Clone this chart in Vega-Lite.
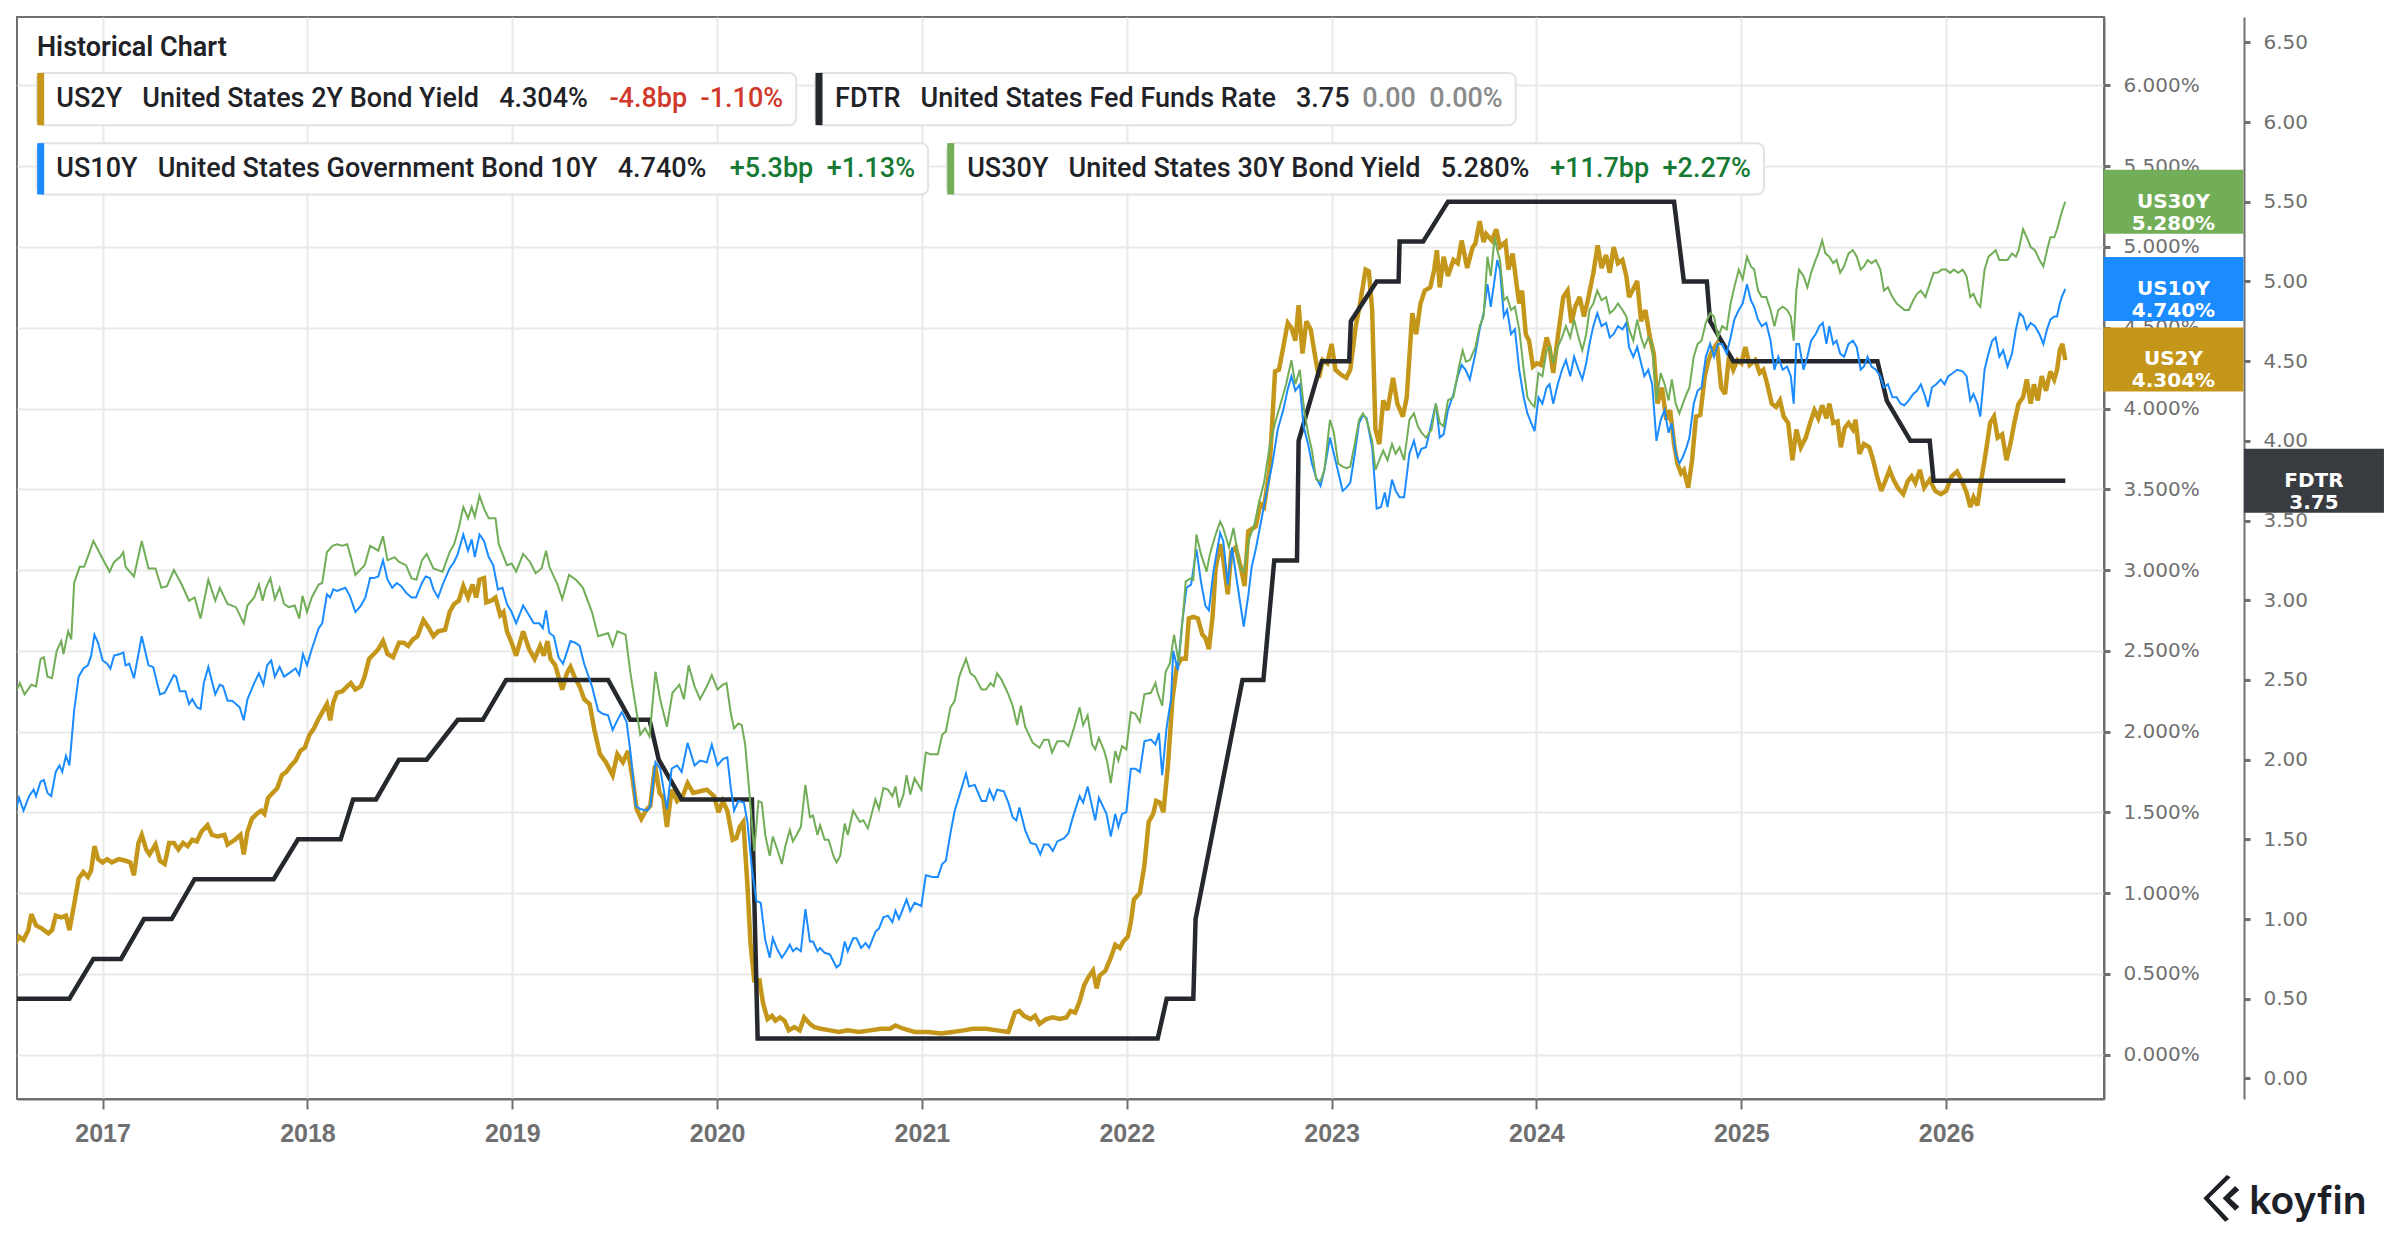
{
  "$schema": "https://vega.github.io/schema/vega-lite/v6.json",
  "width": 2087,
  "height": 1082,
  "padding": {"left": 17, "top": 17, "right": 0, "bottom": 0},
  "autosize": {"type": "pad"},
  "background": "white",
  "config": {
    "view": {"stroke": "#707070", "strokeWidth": 2},
    "axis": {
      "domainColor": "#707070", "domainWidth": 2,
      "tickColor": "#707070",
      "gridColor": "#e9e9e9", "gridWidth": 2,
      "labelColor": "#707070",
      "labelOverlap": false, "labelFlush": false
    }
  },
  "title": {
    "text": "Historical Chart", "anchor": "start", "frame": "group", "orient": "top",
    "offset": -66, "dx": 20, "baseline": "alphabetic",
    "font": "Roboto", "fontSize": 27, "fontWeight": 600, "color": "#1f2328"
  },
  "datasets": {
    "fdtr": [
      {"t":2016.582,"f":0.5},{"t":2016.838,"f":0.5},{"t":2016.955,"f":0.75},{"t":2017.090,"f":0.75},
      {"t":2017.202,"f":1.0},{"t":2017.337,"f":1.0},{"t":2017.449,"f":1.25},{"t":2017.835,"f":1.25},
      {"t":2017.954,"f":1.5},{"t":2018.162,"f":1.5},{"t":2018.223,"f":1.75},{"t":2018.335,"f":1.75},
      {"t":2018.447,"f":2.0},{"t":2018.582,"f":2.0},{"t":2018.734,"f":2.25},{"t":2018.856,"f":2.25},
      {"t":2018.970,"f":2.5},{"t":2019.468,"f":2.5},{"t":2019.576,"f":2.25},{"t":2019.670,"f":2.25},
      {"t":2019.715,"f":2.0},{"t":2019.827,"f":1.75},{"t":2020.170,"f":1.75},{"t":2020.198,"f":0.25},
      {"t":2022.151,"f":0.25},{"t":2022.195,"f":0.5},{"t":2022.325,"f":0.5},{"t":2022.336,"f":1.0},
      {"t":2022.565,"f":2.5},{"t":2022.667,"f":2.5},{"t":2022.720,"f":3.25},{"t":2022.831,"f":3.25},
      {"t":2022.839,"f":4.0},{"t":2022.952,"f":4.5},{"t":2023.086,"f":4.5},{"t":2023.094,"f":4.75},
      {"t":2023.220,"f":5.0},{"t":2023.327,"f":5.0},{"t":2023.332,"f":5.25},{"t":2023.447,"f":5.25},
      {"t":2023.568,"f":5.5},{"t":2024.672,"f":5.5},{"t":2024.720,"f":5.0},{"t":2024.832,"f":5.0},
      {"t":2024.848,"f":4.75},{"t":2024.961,"f":4.5},{"t":2025.665,"f":4.5},{"t":2025.711,"f":4.25},
      {"t":2025.826,"f":4.0},{"t":2025.920,"f":4.0},{"t":2025.939,"f":3.75},{"t":2026.582,"f":3.75}
    ],
    "ftag": [{"s":"FDTR","f":3.75,"lab":["FDTR","3.75"]}],
    "tags": [
      {"s":"US30Y","v":5.28,"lab":["US30Y","5.280%"]},
      {"s":"US10Y","v":4.74,"lab":["US10Y","4.740%"]},
      {"s":"US2Y","v":4.304,"lab":["US2Y","4.304%"]}
    ],
    "pills": [
      {"s":"US2Y","t0":2016.678,"t1":2020.386,"top":6.078,"bot":5.754,"mid":5.915,"tx":2016.774,"main":"US2Y\u00a0\u00a0\u00a0United States 2Y Bond Yield\u00a0\u00a0\u00a04.304%","chg":"-4.8bp\u00a0\u00a0-1.10%","dir":"down"},
      {"s":"FDTR","t0":2020.478,"t1":2023.899,"top":6.078,"bot":5.754,"mid":5.915,"tx":2020.576,"main":"FDTR\u00a0\u00a0\u00a0United States Fed Funds Rate\u00a0\u00a0\u00a03.75","chg":"0.00\u00a0\u00a00.00%","dir":"flat"},
      {"s":"US10Y","t0":2016.678,"t1":2021.030,"top":5.643,"bot":5.325,"mid":5.485,"tx":2016.774,"main":"US10Y\u00a0\u00a0\u00a0United States Government Bond 10Y\u00a0\u00a0\u00a04.740%","chg":"+5.3bp\u00a0\u00a0+1.13%","dir":"up"},
      {"s":"US30Y","t0":2021.121,"t1":2025.111,"top":5.643,"bot":5.325,"mid":5.485,"tx":2021.221,"main":"US30Y\u00a0\u00a0\u00a0United States 30Y Bond Yield\u00a0\u00a0\u00a05.280%","chg":"+11.7bp\u00a0\u00a0+2.27%","dir":"up"}
    ],
    "yields": [
      {"s":"US2Y","t":2016.574,"v":0.69},{"s":"US2Y","t":2016.592,"v":0.73},{"s":"US2Y","t":2016.614,"v":0.71},{"s":"US2Y","t":2016.637,"v":0.77},
      {"s":"US2Y","t":2016.652,"v":0.87},{"s":"US2Y","t":2016.675,"v":0.80},{"s":"US2Y","t":2016.704,"v":0.78},{"s":"US2Y","t":2016.735,"v":0.75},
      {"s":"US2Y","t":2016.753,"v":0.77},{"s":"US2Y","t":2016.771,"v":0.86},{"s":"US2Y","t":2016.798,"v":0.85},{"s":"US2Y","t":2016.821,"v":0.86},
      {"s":"US2Y","t":2016.838,"v":0.77},{"s":"US2Y","t":2016.861,"v":0.93},{"s":"US2Y","t":2016.883,"v":1.09},{"s":"US2Y","t":2016.906,"v":1.13},
      {"s":"US2Y","t":2016.928,"v":1.10},{"s":"US2Y","t":2016.944,"v":1.14},{"s":"US2Y","t":2016.960,"v":1.29},{"s":"US2Y","t":2016.978,"v":1.21},
      {"s":"US2Y","t":2017.000,"v":1.19},{"s":"US2Y","t":2017.022,"v":1.21},{"s":"US2Y","t":2017.045,"v":1.19},{"s":"US2Y","t":2017.079,"v":1.21},
      {"s":"US2Y","t":2017.112,"v":1.20},{"s":"US2Y","t":2017.135,"v":1.19},{"s":"US2Y","t":2017.153,"v":1.11},{"s":"US2Y","t":2017.175,"v":1.31},
      {"s":"US2Y","t":2017.191,"v":1.36},{"s":"US2Y","t":2017.213,"v":1.27},{"s":"US2Y","t":2017.229,"v":1.24},{"s":"US2Y","t":2017.258,"v":1.30},
      {"s":"US2Y","t":2017.280,"v":1.20},{"s":"US2Y","t":2017.303,"v":1.18},{"s":"US2Y","t":2017.325,"v":1.31},{"s":"US2Y","t":2017.348,"v":1.31},
      {"s":"US2Y","t":2017.370,"v":1.27},{"s":"US2Y","t":2017.393,"v":1.31},{"s":"US2Y","t":2017.415,"v":1.29},{"s":"US2Y","t":2017.438,"v":1.33},
      {"s":"US2Y","t":2017.460,"v":1.32},{"s":"US2Y","t":2017.482,"v":1.38},{"s":"US2Y","t":2017.512,"v":1.42},{"s":"US2Y","t":2017.534,"v":1.36},
      {"s":"US2Y","t":2017.561,"v":1.35},{"s":"US2Y","t":2017.595,"v":1.36},{"s":"US2Y","t":2017.610,"v":1.30},{"s":"US2Y","t":2017.646,"v":1.33},
      {"s":"US2Y","t":2017.673,"v":1.36},{"s":"US2Y","t":2017.689,"v":1.24},{"s":"US2Y","t":2017.707,"v":1.38},{"s":"US2Y","t":2017.729,"v":1.46},
      {"s":"US2Y","t":2017.752,"v":1.49},{"s":"US2Y","t":2017.774,"v":1.51},{"s":"US2Y","t":2017.790,"v":1.49},{"s":"US2Y","t":2017.808,"v":1.59},
      {"s":"US2Y","t":2017.830,"v":1.62},{"s":"US2Y","t":2017.853,"v":1.65},{"s":"US2Y","t":2017.875,"v":1.73},{"s":"US2Y","t":2017.897,"v":1.75},
      {"s":"US2Y","t":2017.920,"v":1.79},{"s":"US2Y","t":2017.942,"v":1.82},{"s":"US2Y","t":2017.965,"v":1.88},{"s":"US2Y","t":2017.987,"v":1.90},
      {"s":"US2Y","t":2018.010,"v":1.98},{"s":"US2Y","t":2018.032,"v":2.02},{"s":"US2Y","t":2018.055,"v":2.08},{"s":"US2Y","t":2018.077,"v":2.13},
      {"s":"US2Y","t":2018.095,"v":2.17},{"s":"US2Y","t":2018.111,"v":2.07},{"s":"US2Y","t":2018.126,"v":2.18},{"s":"US2Y","t":2018.144,"v":2.24},
      {"s":"US2Y","t":2018.171,"v":2.25},{"s":"US2Y","t":2018.194,"v":2.28},{"s":"US2Y","t":2018.212,"v":2.30},{"s":"US2Y","t":2018.234,"v":2.26},
      {"s":"US2Y","t":2018.261,"v":2.28},{"s":"US2Y","t":2018.279,"v":2.34},{"s":"US2Y","t":2018.301,"v":2.45},{"s":"US2Y","t":2018.324,"v":2.48},
      {"s":"US2Y","t":2018.346,"v":2.51},{"s":"US2Y","t":2018.369,"v":2.56},{"s":"US2Y","t":2018.391,"v":2.48},{"s":"US2Y","t":2018.418,"v":2.46},
      {"s":"US2Y","t":2018.447,"v":2.55},{"s":"US2Y","t":2018.470,"v":2.55},{"s":"US2Y","t":2018.492,"v":2.53},{"s":"US2Y","t":2018.515,"v":2.57},
      {"s":"US2Y","t":2018.537,"v":2.59},{"s":"US2Y","t":2018.566,"v":2.69},{"s":"US2Y","t":2018.593,"v":2.64},{"s":"US2Y","t":2018.615,"v":2.59},
      {"s":"US2Y","t":2018.638,"v":2.62},{"s":"US2Y","t":2018.672,"v":2.63},{"s":"US2Y","t":2018.694,"v":2.74},{"s":"US2Y","t":2018.716,"v":2.79},
      {"s":"US2Y","t":2018.739,"v":2.81},{"s":"US2Y","t":2018.761,"v":2.90},{"s":"US2Y","t":2018.784,"v":2.83},{"s":"US2Y","t":2018.806,"v":2.91},
      {"s":"US2Y","t":2018.824,"v":2.83},{"s":"US2Y","t":2018.840,"v":2.94},{"s":"US2Y","t":2018.862,"v":2.95},{"s":"US2Y","t":2018.873,"v":2.80},
      {"s":"US2Y","t":2018.896,"v":2.81},{"s":"US2Y","t":2018.918,"v":2.83},{"s":"US2Y","t":2018.941,"v":2.72},{"s":"US2Y","t":2018.957,"v":2.74},
      {"s":"US2Y","t":2018.974,"v":2.62},{"s":"US2Y","t":2018.997,"v":2.55},{"s":"US2Y","t":2019.019,"v":2.47},{"s":"US2Y","t":2019.053,"v":2.62},
      {"s":"US2Y","t":2019.082,"v":2.51},{"s":"US2Y","t":2019.109,"v":2.45},{"s":"US2Y","t":2019.136,"v":2.53},{"s":"US2Y","t":2019.154,"v":2.47},
      {"s":"US2Y","t":2019.172,"v":2.56},{"s":"US2Y","t":2019.187,"v":2.45},{"s":"US2Y","t":2019.210,"v":2.41},{"s":"US2Y","t":2019.244,"v":2.26},
      {"s":"US2Y","t":2019.266,"v":2.36},{"s":"US2Y","t":2019.284,"v":2.40},{"s":"US2Y","t":2019.307,"v":2.33},{"s":"US2Y","t":2019.329,"v":2.28},
      {"s":"US2Y","t":2019.351,"v":2.20},{"s":"US2Y","t":2019.378,"v":2.17},{"s":"US2Y","t":2019.401,"v":2.01},{"s":"US2Y","t":2019.428,"v":1.86},
      {"s":"US2Y","t":2019.457,"v":1.81},{"s":"US2Y","t":2019.490,"v":1.73},{"s":"US2Y","t":2019.513,"v":1.86},{"s":"US2Y","t":2019.540,"v":1.81},
      {"s":"US2Y","t":2019.565,"v":1.88},{"s":"US2Y","t":2019.587,"v":1.71},{"s":"US2Y","t":2019.607,"v":1.52},{"s":"US2Y","t":2019.630,"v":1.46},
      {"s":"US2Y","t":2019.652,"v":1.51},{"s":"US2Y","t":2019.674,"v":1.54},{"s":"US2Y","t":2019.697,"v":1.79},{"s":"US2Y","t":2019.719,"v":1.62},
      {"s":"US2Y","t":2019.737,"v":1.59},{"s":"US2Y","t":2019.755,"v":1.41},{"s":"US2Y","t":2019.778,"v":1.64},{"s":"US2Y","t":2019.805,"v":1.57},
      {"s":"US2Y","t":2019.832,"v":1.60},{"s":"US2Y","t":2019.856,"v":1.68},{"s":"US2Y","t":2019.883,"v":1.62},{"s":"US2Y","t":2019.917,"v":1.63},
      {"s":"US2Y","t":2019.950,"v":1.64},{"s":"US2Y","t":2019.985,"v":1.60},{"s":"US2Y","t":2020.007,"v":1.50},{"s":"US2Y","t":2020.028,"v":1.57},
      {"s":"US2Y","t":2020.050,"v":1.51},{"s":"US2Y","t":2020.076,"v":1.33},{"s":"US2Y","t":2020.094,"v":1.34},{"s":"US2Y","t":2020.111,"v":1.41},
      {"s":"US2Y","t":2020.128,"v":1.44},{"s":"US2Y","t":2020.148,"v":1.05},{"s":"US2Y","t":2020.163,"v":0.69},{"s":"US2Y","t":2020.181,"v":0.46},
      {"s":"US2Y","t":2020.207,"v":0.46},{"s":"US2Y","t":2020.224,"v":0.32},{"s":"US2Y","t":2020.246,"v":0.22},{"s":"US2Y","t":2020.268,"v":0.24},
      {"s":"US2Y","t":2020.285,"v":0.21},{"s":"US2Y","t":2020.307,"v":0.23},{"s":"US2Y","t":2020.329,"v":0.21},{"s":"US2Y","t":2020.350,"v":0.15},
      {"s":"US2Y","t":2020.377,"v":0.17},{"s":"US2Y","t":2020.403,"v":0.15},{"s":"US2Y","t":2020.425,"v":0.23},{"s":"US2Y","t":2020.453,"v":0.19},
      {"s":"US2Y","t":2020.475,"v":0.17},{"s":"US2Y","t":2020.507,"v":0.16},{"s":"US2Y","t":2020.551,"v":0.15},{"s":"US2Y","t":2020.594,"v":0.14},
      {"s":"US2Y","t":2020.638,"v":0.15},{"s":"US2Y","t":2020.692,"v":0.14},{"s":"US2Y","t":2020.747,"v":0.15},{"s":"US2Y","t":2020.801,"v":0.16},
      {"s":"US2Y","t":2020.845,"v":0.16},{"s":"US2Y","t":2020.871,"v":0.18},{"s":"US2Y","t":2020.910,"v":0.16},{"s":"US2Y","t":2020.964,"v":0.14},
      {"s":"US2Y","t":2021.030,"v":0.14},{"s":"US2Y","t":2021.095,"v":0.13},{"s":"US2Y","t":2021.149,"v":0.14},{"s":"US2Y","t":2021.204,"v":0.15},
      {"s":"US2Y","t":2021.247,"v":0.16},{"s":"US2Y","t":2021.313,"v":0.16},{"s":"US2Y","t":2021.367,"v":0.15},{"s":"US2Y","t":2021.422,"v":0.14},
      {"s":"US2Y","t":2021.454,"v":0.26},{"s":"US2Y","t":2021.476,"v":0.27},{"s":"US2Y","t":2021.498,"v":0.24},{"s":"US2Y","t":2021.530,"v":0.22},
      {"s":"US2Y","t":2021.552,"v":0.24},{"s":"US2Y","t":2021.574,"v":0.19},{"s":"US2Y","t":2021.607,"v":0.22},{"s":"US2Y","t":2021.639,"v":0.23},
      {"s":"US2Y","t":2021.672,"v":0.22},{"s":"US2Y","t":2021.705,"v":0.23},{"s":"US2Y","t":2021.726,"v":0.27},{"s":"US2Y","t":2021.748,"v":0.26},
      {"s":"US2Y","t":2021.770,"v":0.33},{"s":"US2Y","t":2021.792,"v":0.43},{"s":"US2Y","t":2021.813,"v":0.48},{"s":"US2Y","t":2021.835,"v":0.52},
      {"s":"US2Y","t":2021.853,"v":0.41},{"s":"US2Y","t":2021.868,"v":0.49},{"s":"US2Y","t":2021.896,"v":0.52},{"s":"US2Y","t":2021.922,"v":0.60},
      {"s":"US2Y","t":2021.944,"v":0.68},{"s":"US2Y","t":2021.966,"v":0.66},{"s":"US2Y","t":2021.983,"v":0.70},{"s":"US2Y","t":2022.005,"v":0.73},
      {"s":"US2Y","t":2022.020,"v":0.82},{"s":"US2Y","t":2022.035,"v":0.96},{"s":"US2Y","t":2022.064,"v":1.00},{"s":"US2Y","t":2022.086,"v":1.17},
      {"s":"US2Y","t":2022.107,"v":1.44},{"s":"US2Y","t":2022.129,"v":1.49},{"s":"US2Y","t":2022.144,"v":1.57},{"s":"US2Y","t":2022.162,"v":1.56},
      {"s":"US2Y","t":2022.179,"v":1.50},{"s":"US2Y","t":2022.201,"v":1.79},{"s":"US2Y","t":2022.223,"v":2.20},{"s":"US2Y","t":2022.244,"v":2.40},
      {"s":"US2Y","t":2022.266,"v":2.45},{"s":"US2Y","t":2022.288,"v":2.45},{"s":"US2Y","t":2022.303,"v":2.70},{"s":"US2Y","t":2022.325,"v":2.71},
      {"s":"US2Y","t":2022.347,"v":2.70},{"s":"US2Y","t":2022.369,"v":2.60},{"s":"US2Y","t":2022.384,"v":2.58},{"s":"US2Y","t":2022.401,"v":2.51},
      {"s":"US2Y","t":2022.419,"v":2.71},{"s":"US2Y","t":2022.434,"v":3.01},{"s":"US2Y","t":2022.456,"v":3.16},{"s":"US2Y","t":2022.471,"v":3.07},
      {"s":"US2Y","t":2022.493,"v":2.85},{"s":"US2Y","t":2022.510,"v":3.11},{"s":"US2Y","t":2022.532,"v":3.14},{"s":"US2Y","t":2022.558,"v":3.01},
      {"s":"US2Y","t":2022.575,"v":2.90},{"s":"US2Y","t":2022.593,"v":3.24},{"s":"US2Y","t":2022.630,"v":3.27},{"s":"US2Y","t":2022.652,"v":3.41},
      {"s":"US2Y","t":2022.670,"v":3.39},{"s":"US2Y","t":2022.697,"v":3.62},{"s":"US2Y","t":2022.724,"v":4.23},{"s":"US2Y","t":2022.743,"v":4.24},
      {"s":"US2Y","t":2022.764,"v":4.38},{"s":"US2Y","t":2022.786,"v":4.53},{"s":"US2Y","t":2022.804,"v":4.50},{"s":"US2Y","t":2022.823,"v":4.42},
      {"s":"US2Y","t":2022.839,"v":4.64},{"s":"US2Y","t":2022.858,"v":4.34},{"s":"US2Y","t":2022.877,"v":4.54},{"s":"US2Y","t":2022.898,"v":4.49},
      {"s":"US2Y","t":2022.920,"v":4.32},{"s":"US2Y","t":2022.938,"v":4.19},{"s":"US2Y","t":2022.957,"v":4.30},{"s":"US2Y","t":2022.979,"v":4.28},
      {"s":"US2Y","t":2023.000,"v":4.40},{"s":"US2Y","t":2023.019,"v":4.24},{"s":"US2Y","t":2023.046,"v":4.21},{"s":"US2Y","t":2023.072,"v":4.19},
      {"s":"US2Y","t":2023.091,"v":4.24},{"s":"US2Y","t":2023.118,"v":4.51},{"s":"US2Y","t":2023.139,"v":4.65},{"s":"US2Y","t":2023.166,"v":4.86},
      {"s":"US2Y","t":2023.182,"v":4.85},{"s":"US2Y","t":2023.198,"v":4.61},{"s":"US2Y","t":2023.214,"v":3.87},{"s":"US2Y","t":2023.233,"v":3.78},
      {"s":"US2Y","t":2023.252,"v":4.05},{"s":"US2Y","t":2023.273,"v":3.99},{"s":"US2Y","t":2023.300,"v":4.19},{"s":"US2Y","t":2023.321,"v":4.03},
      {"s":"US2Y","t":2023.348,"v":3.95},{"s":"US2Y","t":2023.367,"v":4.07},{"s":"US2Y","t":2023.394,"v":4.59},{"s":"US2Y","t":2023.413,"v":4.46},
      {"s":"US2Y","t":2023.434,"v":4.65},{"s":"US2Y","t":2023.455,"v":4.73},{"s":"US2Y","t":2023.482,"v":4.75},{"s":"US2Y","t":2023.501,"v":4.86},
      {"s":"US2Y","t":2023.514,"v":4.98},{"s":"US2Y","t":2023.528,"v":4.75},{"s":"US2Y","t":2023.547,"v":4.94},{"s":"US2Y","t":2023.568,"v":4.82},
      {"s":"US2Y","t":2023.595,"v":4.92},{"s":"US2Y","t":2023.616,"v":4.90},{"s":"US2Y","t":2023.635,"v":5.04},{"s":"US2Y","t":2023.662,"v":4.87},
      {"s":"US2Y","t":2023.689,"v":5.00},{"s":"US2Y","t":2023.702,"v":5.02},{"s":"US2Y","t":2023.723,"v":5.16},{"s":"US2Y","t":2023.742,"v":5.03},
      {"s":"US2Y","t":2023.755,"v":5.08},{"s":"US2Y","t":2023.782,"v":5.04},{"s":"US2Y","t":2023.804,"v":5.11},{"s":"US2Y","t":2023.822,"v":5.00},
      {"s":"US2Y","t":2023.849,"v":5.03},{"s":"US2Y","t":2023.863,"v":4.86},{"s":"US2Y","t":2023.884,"v":4.96},{"s":"US2Y","t":2023.903,"v":4.77},
      {"s":"US2Y","t":2023.916,"v":4.65},{"s":"US2Y","t":2023.930,"v":4.73},{"s":"US2Y","t":2023.948,"v":4.46},{"s":"US2Y","t":2023.964,"v":4.42},
      {"s":"US2Y","t":2023.983,"v":4.26},{"s":"US2Y","t":2024.002,"v":4.28},{"s":"US2Y","t":2024.023,"v":4.27},{"s":"US2Y","t":2024.050,"v":4.44},
      {"s":"US2Y","t":2024.064,"v":4.38},{"s":"US2Y","t":2024.082,"v":4.22},{"s":"US2Y","t":2024.104,"v":4.44},{"s":"US2Y","t":2024.131,"v":4.69},
      {"s":"US2Y","t":2024.152,"v":4.73},{"s":"US2Y","t":2024.171,"v":4.53},{"s":"US2Y","t":2024.189,"v":4.63},{"s":"US2Y","t":2024.211,"v":4.69},
      {"s":"US2Y","t":2024.232,"v":4.57},{"s":"US2Y","t":2024.251,"v":4.67},{"s":"US2Y","t":2024.278,"v":4.84},{"s":"US2Y","t":2024.299,"v":5.01},
      {"s":"US2Y","t":2024.318,"v":4.87},{"s":"US2Y","t":2024.340,"v":4.95},{"s":"US2Y","t":2024.358,"v":4.84},{"s":"US2Y","t":2024.377,"v":5.00},
      {"s":"US2Y","t":2024.398,"v":4.90},{"s":"US2Y","t":2024.420,"v":4.92},{"s":"US2Y","t":2024.439,"v":4.82},{"s":"US2Y","t":2024.452,"v":4.69},
      {"s":"US2Y","t":2024.473,"v":4.74},{"s":"US2Y","t":2024.492,"v":4.79},{"s":"US2Y","t":2024.511,"v":4.54},{"s":"US2Y","t":2024.532,"v":4.61},
      {"s":"US2Y","t":2024.554,"v":4.44},{"s":"US2Y","t":2024.573,"v":4.34},{"s":"US2Y","t":2024.591,"v":4.03},{"s":"US2Y","t":2024.613,"v":4.13},
      {"s":"US2Y","t":2024.634,"v":3.93},{"s":"US2Y","t":2024.653,"v":3.99},{"s":"US2Y","t":2024.672,"v":3.78},{"s":"US2Y","t":2024.688,"v":3.66},
      {"s":"US2Y","t":2024.706,"v":3.60},{"s":"US2Y","t":2024.720,"v":3.62},{"s":"US2Y","t":2024.741,"v":3.51},{"s":"US2Y","t":2024.760,"v":3.68},
      {"s":"US2Y","t":2024.779,"v":3.95},{"s":"US2Y","t":2024.800,"v":3.96},{"s":"US2Y","t":2024.822,"v":4.20},{"s":"US2Y","t":2024.840,"v":4.30},
      {"s":"US2Y","t":2024.859,"v":4.36},{"s":"US2Y","t":2024.881,"v":4.40},{"s":"US2Y","t":2024.902,"v":4.13},{"s":"US2Y","t":2024.921,"v":4.09},
      {"s":"US2Y","t":2024.940,"v":4.32},{"s":"US2Y","t":2024.961,"v":4.24},{"s":"US2Y","t":2024.982,"v":4.30},{"s":"US2Y","t":2025.001,"v":4.28},
      {"s":"US2Y","t":2025.020,"v":4.38},{"s":"US2Y","t":2025.041,"v":4.27},{"s":"US2Y","t":2025.068,"v":4.30},{"s":"US2Y","t":2025.090,"v":4.22},
      {"s":"US2Y","t":2025.108,"v":4.24},{"s":"US2Y","t":2025.127,"v":4.15},{"s":"US2Y","t":2025.149,"v":4.03},{"s":"US2Y","t":2025.170,"v":4.01},
      {"s":"US2Y","t":2025.189,"v":4.05},{"s":"US2Y","t":2025.207,"v":3.95},{"s":"US2Y","t":2025.229,"v":3.91},{"s":"US2Y","t":2025.250,"v":3.68},
      {"s":"US2Y","t":2025.269,"v":3.87},{"s":"US2Y","t":2025.291,"v":3.76},{"s":"US2Y","t":2025.315,"v":3.82},{"s":"US2Y","t":2025.336,"v":3.91},
      {"s":"US2Y","t":2025.357,"v":3.99},{"s":"US2Y","t":2025.376,"v":3.94},{"s":"US2Y","t":2025.395,"v":4.02},{"s":"US2Y","t":2025.416,"v":3.94},
      {"s":"US2Y","t":2025.430,"v":4.03},{"s":"US2Y","t":2025.449,"v":3.91},{"s":"US2Y","t":2025.470,"v":3.92},{"s":"US2Y","t":2025.486,"v":3.76},
      {"s":"US2Y","t":2025.505,"v":3.88},{"s":"US2Y","t":2025.524,"v":3.91},{"s":"US2Y","t":2025.545,"v":3.87},{"s":"US2Y","t":2025.558,"v":3.93},
      {"s":"US2Y","t":2025.577,"v":3.72},{"s":"US2Y","t":2025.599,"v":3.78},{"s":"US2Y","t":2025.625,"v":3.76},{"s":"US2Y","t":2025.644,"v":3.68},
      {"s":"US2Y","t":2025.663,"v":3.58},{"s":"US2Y","t":2025.684,"v":3.49},{"s":"US2Y","t":2025.706,"v":3.56},{"s":"US2Y","t":2025.724,"v":3.62},
      {"s":"US2Y","t":2025.743,"v":3.56},{"s":"US2Y","t":2025.764,"v":3.51},{"s":"US2Y","t":2025.791,"v":3.47},{"s":"US2Y","t":2025.813,"v":3.55},
      {"s":"US2Y","t":2025.832,"v":3.58},{"s":"US2Y","t":2025.850,"v":3.54},{"s":"US2Y","t":2025.872,"v":3.62},{"s":"US2Y","t":2025.893,"v":3.51},
      {"s":"US2Y","t":2025.920,"v":3.56},{"s":"US2Y","t":2025.947,"v":3.49},{"s":"US2Y","t":2025.974,"v":3.47},{"s":"US2Y","t":2026.000,"v":3.49},
      {"s":"US2Y","t":2026.027,"v":3.58},{"s":"US2Y","t":2026.054,"v":3.61},{"s":"US2Y","t":2026.081,"v":3.54},{"s":"US2Y","t":2026.100,"v":3.48},
      {"s":"US2Y","t":2026.118,"v":3.39},{"s":"US2Y","t":2026.134,"v":3.45},{"s":"US2Y","t":2026.153,"v":3.40},{"s":"US2Y","t":2026.172,"v":3.56},
      {"s":"US2Y","t":2026.193,"v":3.72},{"s":"US2Y","t":2026.215,"v":3.91},{"s":"US2Y","t":2026.234,"v":3.95},{"s":"US2Y","t":2026.252,"v":3.82},
      {"s":"US2Y","t":2026.274,"v":3.84},{"s":"US2Y","t":2026.295,"v":3.68},{"s":"US2Y","t":2026.314,"v":3.78},{"s":"US2Y","t":2026.333,"v":3.91},
      {"s":"US2Y","t":2026.354,"v":4.03},{"s":"US2Y","t":2026.376,"v":4.07},{"s":"US2Y","t":2026.394,"v":4.18},{"s":"US2Y","t":2026.413,"v":4.03},
      {"s":"US2Y","t":2026.429,"v":4.15},{"s":"US2Y","t":2026.448,"v":4.05},{"s":"US2Y","t":2026.467,"v":4.20},{"s":"US2Y","t":2026.488,"v":4.11},
      {"s":"US2Y","t":2026.509,"v":4.23},{"s":"US2Y","t":2026.528,"v":4.18},{"s":"US2Y","t":2026.542,"v":4.24},{"s":"US2Y","t":2026.555,"v":4.36},
      {"s":"US2Y","t":2026.568,"v":4.40},{"s":"US2Y","t":2026.582,"v":4.30},

      {"s":"US10Y","t":2016.574,"v":1.50},{"s":"US10Y","t":2016.592,"v":1.59},{"s":"US10Y","t":2016.614,"v":1.51},{"s":"US10Y","t":2016.641,"v":1.60},
      {"s":"US10Y","t":2016.663,"v":1.64},{"s":"US10Y","t":2016.675,"v":1.60},{"s":"US10Y","t":2016.697,"v":1.69},{"s":"US10Y","t":2016.713,"v":1.70},
      {"s":"US10Y","t":2016.731,"v":1.62},{"s":"US10Y","t":2016.749,"v":1.60},{"s":"US10Y","t":2016.771,"v":1.75},{"s":"US10Y","t":2016.789,"v":1.79},
      {"s":"US10Y","t":2016.803,"v":1.75},{"s":"US10Y","t":2016.821,"v":1.85},{"s":"US10Y","t":2016.838,"v":1.79},{"s":"US10Y","t":2016.861,"v":2.13},
      {"s":"US10Y","t":2016.883,"v":2.34},{"s":"US10Y","t":2016.906,"v":2.39},{"s":"US10Y","t":2016.928,"v":2.41},{"s":"US10Y","t":2016.944,"v":2.47},
      {"s":"US10Y","t":2016.960,"v":2.60},{"s":"US10Y","t":2016.978,"v":2.55},{"s":"US10Y","t":2017.000,"v":2.44},{"s":"US10Y","t":2017.022,"v":2.42},
      {"s":"US10Y","t":2017.038,"v":2.39},{"s":"US10Y","t":2017.056,"v":2.47},{"s":"US10Y","t":2017.085,"v":2.48},{"s":"US10Y","t":2017.101,"v":2.49},
      {"s":"US10Y","t":2017.112,"v":2.41},{"s":"US10Y","t":2017.130,"v":2.42},{"s":"US10Y","t":2017.153,"v":2.33},{"s":"US10Y","t":2017.191,"v":2.59},
      {"s":"US10Y","t":2017.224,"v":2.41},{"s":"US10Y","t":2017.247,"v":2.40},{"s":"US10Y","t":2017.280,"v":2.23},{"s":"US10Y","t":2017.303,"v":2.24},
      {"s":"US10Y","t":2017.348,"v":2.35},{"s":"US10Y","t":2017.359,"v":2.34},{"s":"US10Y","t":2017.377,"v":2.25},{"s":"US10Y","t":2017.404,"v":2.25},
      {"s":"US10Y","t":2017.422,"v":2.17},{"s":"US10Y","t":2017.438,"v":2.20},{"s":"US10Y","t":2017.460,"v":2.15},{"s":"US10Y","t":2017.478,"v":2.14},
      {"s":"US10Y","t":2017.494,"v":2.30},{"s":"US10Y","t":2017.516,"v":2.40},{"s":"US10Y","t":2017.550,"v":2.23},{"s":"US10Y","t":2017.572,"v":2.29},
      {"s":"US10Y","t":2017.588,"v":2.28},{"s":"US10Y","t":2017.610,"v":2.19},{"s":"US10Y","t":2017.633,"v":2.19},{"s":"US10Y","t":2017.669,"v":2.15},
      {"s":"US10Y","t":2017.689,"v":2.07},{"s":"US10Y","t":2017.707,"v":2.20},{"s":"US10Y","t":2017.740,"v":2.30},{"s":"US10Y","t":2017.763,"v":2.36},
      {"s":"US10Y","t":2017.785,"v":2.29},{"s":"US10Y","t":2017.803,"v":2.41},{"s":"US10Y","t":2017.823,"v":2.44},{"s":"US10Y","t":2017.841,"v":2.34},
      {"s":"US10Y","t":2017.864,"v":2.40},{"s":"US10Y","t":2017.886,"v":2.34},{"s":"US10Y","t":2017.909,"v":2.36},{"s":"US10Y","t":2017.942,"v":2.39},
      {"s":"US10Y","t":2017.960,"v":2.35},{"s":"US10Y","t":2017.978,"v":2.48},{"s":"US10Y","t":2017.998,"v":2.41},{"s":"US10Y","t":2018.021,"v":2.51},
      {"s":"US10Y","t":2018.055,"v":2.64},{"s":"US10Y","t":2018.072,"v":2.67},{"s":"US10Y","t":2018.095,"v":2.85},{"s":"US10Y","t":2018.111,"v":2.83},
      {"s":"US10Y","t":2018.126,"v":2.88},{"s":"US10Y","t":2018.144,"v":2.87},{"s":"US10Y","t":2018.185,"v":2.89},{"s":"US10Y","t":2018.207,"v":2.84},
      {"s":"US10Y","t":2018.234,"v":2.74},{"s":"US10Y","t":2018.261,"v":2.78},{"s":"US10Y","t":2018.283,"v":2.83},{"s":"US10Y","t":2018.306,"v":2.95},
      {"s":"US10Y","t":2018.324,"v":2.95},{"s":"US10Y","t":2018.346,"v":2.96},{"s":"US10Y","t":2018.369,"v":3.06},{"s":"US10Y","t":2018.391,"v":2.94},
      {"s":"US10Y","t":2018.414,"v":2.89},{"s":"US10Y","t":2018.436,"v":2.92},{"s":"US10Y","t":2018.458,"v":2.90},{"s":"US10Y","t":2018.481,"v":2.86},
      {"s":"US10Y","t":2018.508,"v":2.83},{"s":"US10Y","t":2018.530,"v":2.83},{"s":"US10Y","t":2018.559,"v":2.92},{"s":"US10Y","t":2018.577,"v":2.96},
      {"s":"US10Y","t":2018.598,"v":2.95},{"s":"US10Y","t":2018.615,"v":2.88},{"s":"US10Y","t":2018.638,"v":2.83},{"s":"US10Y","t":2018.660,"v":2.91},
      {"s":"US10Y","t":2018.694,"v":3.01},{"s":"US10Y","t":2018.716,"v":3.05},{"s":"US10Y","t":2018.734,"v":3.10},{"s":"US10Y","t":2018.761,"v":3.22},
      {"s":"US10Y","t":2018.784,"v":3.12},{"s":"US10Y","t":2018.802,"v":3.19},{"s":"US10Y","t":2018.817,"v":3.08},{"s":"US10Y","t":2018.840,"v":3.22},
      {"s":"US10Y","t":2018.862,"v":3.18},{"s":"US10Y","t":2018.885,"v":3.08},{"s":"US10Y","t":2018.907,"v":3.03},{"s":"US10Y","t":2018.930,"v":2.88},
      {"s":"US10Y","t":2018.952,"v":2.89},{"s":"US10Y","t":2018.974,"v":2.79},{"s":"US10Y","t":2018.997,"v":2.74},{"s":"US10Y","t":2019.019,"v":2.67},
      {"s":"US10Y","t":2019.053,"v":2.78},{"s":"US10Y","t":2019.082,"v":2.72},{"s":"US10Y","t":2019.105,"v":2.67},{"s":"US10Y","t":2019.132,"v":2.67},
      {"s":"US10Y","t":2019.149,"v":2.64},{"s":"US10Y","t":2019.165,"v":2.75},{"s":"US10Y","t":2019.181,"v":2.61},{"s":"US10Y","t":2019.203,"v":2.59},
      {"s":"US10Y","t":2019.226,"v":2.46},{"s":"US10Y","t":2019.248,"v":2.42},{"s":"US10Y","t":2019.284,"v":2.56},{"s":"US10Y","t":2019.307,"v":2.55},
      {"s":"US10Y","t":2019.329,"v":2.53},{"s":"US10Y","t":2019.351,"v":2.42},{"s":"US10Y","t":2019.389,"v":2.28},{"s":"US10Y","t":2019.419,"v":2.13},
      {"s":"US10Y","t":2019.441,"v":2.11},{"s":"US10Y","t":2019.468,"v":2.10},{"s":"US10Y","t":2019.490,"v":2.01},{"s":"US10Y","t":2019.517,"v":2.08},
      {"s":"US10Y","t":2019.535,"v":2.12},{"s":"US10Y","t":2019.558,"v":2.06},{"s":"US10Y","t":2019.580,"v":1.84},{"s":"US10Y","t":2019.603,"v":1.54},
      {"s":"US10Y","t":2019.625,"v":1.52},{"s":"US10Y","t":2019.659,"v":1.51},{"s":"US10Y","t":2019.674,"v":1.54},{"s":"US10Y","t":2019.699,"v":1.81},
      {"s":"US10Y","t":2019.722,"v":1.77},{"s":"US10Y","t":2019.755,"v":1.52},{"s":"US10Y","t":2019.778,"v":1.77},{"s":"US10Y","t":2019.805,"v":1.79},
      {"s":"US10Y","t":2019.827,"v":1.75},{"s":"US10Y","t":2019.856,"v":1.93},{"s":"US10Y","t":2019.890,"v":1.79},{"s":"US10Y","t":2019.917,"v":1.82},
      {"s":"US10Y","t":2019.950,"v":1.81},{"s":"US10Y","t":2019.974,"v":1.92},{"s":"US10Y","t":2020.002,"v":1.79},{"s":"US10Y","t":2020.028,"v":1.83},
      {"s":"US10Y","t":2020.050,"v":1.84},{"s":"US10Y","t":2020.067,"v":1.65},{"s":"US10Y","t":2020.083,"v":1.51},{"s":"US10Y","t":2020.104,"v":1.57},
      {"s":"US10Y","t":2020.131,"v":1.56},{"s":"US10Y","t":2020.148,"v":1.44},{"s":"US10Y","t":2020.170,"v":1.15},{"s":"US10Y","t":2020.192,"v":0.95},
      {"s":"US10Y","t":2020.213,"v":0.94},{"s":"US10Y","t":2020.235,"v":0.71},{"s":"US10Y","t":2020.257,"v":0.60},{"s":"US10Y","t":2020.272,"v":0.72},
      {"s":"US10Y","t":2020.294,"v":0.65},{"s":"US10Y","t":2020.316,"v":0.60},{"s":"US10Y","t":2020.333,"v":0.63},{"s":"US10Y","t":2020.355,"v":0.68},
      {"s":"US10Y","t":2020.370,"v":0.64},{"s":"US10Y","t":2020.388,"v":0.66},{"s":"US10Y","t":2020.409,"v":0.64},{"s":"US10Y","t":2020.431,"v":0.90},
      {"s":"US10Y","t":2020.453,"v":0.70},{"s":"US10Y","t":2020.468,"v":0.70},{"s":"US10Y","t":2020.490,"v":0.64},{"s":"US10Y","t":2020.503,"v":0.66},
      {"s":"US10Y","t":2020.525,"v":0.63},{"s":"US10Y","t":2020.551,"v":0.62},{"s":"US10Y","t":2020.583,"v":0.54},{"s":"US10Y","t":2020.601,"v":0.56},
      {"s":"US10Y","t":2020.623,"v":0.70},{"s":"US10Y","t":2020.638,"v":0.64},{"s":"US10Y","t":2020.664,"v":0.72},{"s":"US10Y","t":2020.681,"v":0.72},
      {"s":"US10Y","t":2020.703,"v":0.66},{"s":"US10Y","t":2020.725,"v":0.69},{"s":"US10Y","t":2020.742,"v":0.66},{"s":"US10Y","t":2020.773,"v":0.76},
      {"s":"US10Y","t":2020.790,"v":0.78},{"s":"US10Y","t":2020.812,"v":0.85},{"s":"US10Y","t":2020.834,"v":0.86},{"s":"US10Y","t":2020.856,"v":0.82},
      {"s":"US10Y","t":2020.871,"v":0.89},{"s":"US10Y","t":2020.888,"v":0.84},{"s":"US10Y","t":2020.925,"v":0.96},{"s":"US10Y","t":2020.943,"v":0.89},
      {"s":"US10Y","t":2020.964,"v":0.94},{"s":"US10Y","t":2020.997,"v":0.92},{"s":"US10Y","t":2021.019,"v":1.11},{"s":"US10Y","t":2021.051,"v":1.10},
      {"s":"US10Y","t":2021.078,"v":1.10},{"s":"US10Y","t":2021.099,"v":1.18},{"s":"US10Y","t":2021.117,"v":1.20},{"s":"US10Y","t":2021.139,"v":1.37},
      {"s":"US10Y","t":2021.160,"v":1.51},{"s":"US10Y","t":2021.182,"v":1.60},{"s":"US10Y","t":2021.215,"v":1.74},{"s":"US10Y","t":2021.230,"v":1.66},
      {"s":"US10Y","t":2021.258,"v":1.67},{"s":"US10Y","t":2021.291,"v":1.57},{"s":"US10Y","t":2021.313,"v":1.57},{"s":"US10Y","t":2021.330,"v":1.64},
      {"s":"US10Y","t":2021.350,"v":1.58},{"s":"US10Y","t":2021.367,"v":1.64},{"s":"US10Y","t":2021.400,"v":1.63},{"s":"US10Y","t":2021.422,"v":1.56},
      {"s":"US10Y","t":2021.443,"v":1.47},{"s":"US10Y","t":2021.461,"v":1.45},{"s":"US10Y","t":2021.476,"v":1.53},{"s":"US10Y","t":2021.504,"v":1.39},
      {"s":"US10Y","t":2021.530,"v":1.31},{"s":"US10Y","t":2021.557,"v":1.30},{"s":"US10Y","t":2021.578,"v":1.24},{"s":"US10Y","t":2021.596,"v":1.30},
      {"s":"US10Y","t":2021.618,"v":1.30},{"s":"US10Y","t":2021.639,"v":1.26},{"s":"US10Y","t":2021.661,"v":1.32},{"s":"US10Y","t":2021.694,"v":1.34},
      {"s":"US10Y","t":2021.715,"v":1.37},{"s":"US10Y","t":2021.737,"v":1.47},{"s":"US10Y","t":2021.770,"v":1.60},{"s":"US10Y","t":2021.787,"v":1.56},
      {"s":"US10Y","t":2021.809,"v":1.66},{"s":"US10Y","t":2021.846,"v":1.45},{"s":"US10Y","t":2021.864,"v":1.59},{"s":"US10Y","t":2021.901,"v":1.49},
      {"s":"US10Y","t":2021.922,"v":1.35},{"s":"US10Y","t":2021.944,"v":1.49},{"s":"US10Y","t":2021.959,"v":1.41},{"s":"US10Y","t":2021.977,"v":1.49},
      {"s":"US10Y","t":2021.998,"v":1.50},{"s":"US10Y","t":2022.020,"v":1.77},{"s":"US10Y","t":2022.042,"v":1.77},{"s":"US10Y","t":2022.064,"v":1.75},
      {"s":"US10Y","t":2022.086,"v":1.94},{"s":"US10Y","t":2022.118,"v":1.95},{"s":"US10Y","t":2022.140,"v":1.92},{"s":"US10Y","t":2022.157,"v":1.99},
      {"s":"US10Y","t":2022.173,"v":1.73},{"s":"US10Y","t":2022.194,"v":2.02},{"s":"US10Y","t":2022.216,"v":2.20},{"s":"US10Y","t":2022.227,"v":2.50},
      {"s":"US10Y","t":2022.249,"v":2.38},{"s":"US10Y","t":2022.271,"v":2.68},{"s":"US10Y","t":2022.292,"v":2.89},{"s":"US10Y","t":2022.314,"v":2.91},
      {"s":"US10Y","t":2022.340,"v":3.13},{"s":"US10Y","t":2022.362,"v":2.93},{"s":"US10Y","t":2022.384,"v":2.78},{"s":"US10Y","t":2022.401,"v":2.75},
      {"s":"US10Y","t":2022.423,"v":2.99},{"s":"US10Y","t":2022.456,"v":3.23},{"s":"US10Y","t":2022.471,"v":3.18},{"s":"US10Y","t":2022.493,"v":2.91},
      {"s":"US10Y","t":2022.514,"v":3.14},{"s":"US10Y","t":2022.532,"v":2.98},{"s":"US10Y","t":2022.571,"v":2.65},{"s":"US10Y","t":2022.593,"v":2.84},
      {"s":"US10Y","t":2022.610,"v":3.02},{"s":"US10Y","t":2022.630,"v":3.13},{"s":"US10Y","t":2022.657,"v":3.31},{"s":"US10Y","t":2022.684,"v":3.49},
      {"s":"US10Y","t":2022.711,"v":3.66},{"s":"US10Y","t":2022.737,"v":3.87},{"s":"US10Y","t":2022.764,"v":3.99},{"s":"US10Y","t":2022.786,"v":4.12},
      {"s":"US10Y","t":2022.804,"v":4.20},{"s":"US10Y","t":2022.823,"v":4.11},{"s":"US10Y","t":2022.845,"v":4.15},{"s":"US10Y","t":2022.863,"v":3.89},
      {"s":"US10Y","t":2022.885,"v":3.78},{"s":"US10Y","t":2022.904,"v":3.66},{"s":"US10Y","t":2022.925,"v":3.57},{"s":"US10Y","t":2022.946,"v":3.52},
      {"s":"US10Y","t":2022.965,"v":3.62},{"s":"US10Y","t":2022.992,"v":3.82},{"s":"US10Y","t":2023.011,"v":3.72},{"s":"US10Y","t":2023.032,"v":3.61},
      {"s":"US10Y","t":2023.054,"v":3.49},{"s":"US10Y","t":2023.072,"v":3.51},{"s":"US10Y","t":2023.091,"v":3.54},{"s":"US10Y","t":2023.113,"v":3.72},
      {"s":"US10Y","t":2023.134,"v":3.91},{"s":"US10Y","t":2023.153,"v":3.96},{"s":"US10Y","t":2023.171,"v":3.94},{"s":"US10Y","t":2023.198,"v":3.76},
      {"s":"US10Y","t":2023.220,"v":3.38},{"s":"US10Y","t":2023.241,"v":3.39},{"s":"US10Y","t":2023.260,"v":3.48},{"s":"US10Y","t":2023.273,"v":3.39},
      {"s":"US10Y","t":2023.295,"v":3.56},{"s":"US10Y","t":2023.313,"v":3.49},{"s":"US10Y","t":2023.332,"v":3.45},{"s":"US10Y","t":2023.354,"v":3.45},
      {"s":"US10Y","t":2023.380,"v":3.72},{"s":"US10Y","t":2023.402,"v":3.80},{"s":"US10Y","t":2023.421,"v":3.70},{"s":"US10Y","t":2023.439,"v":3.75},
      {"s":"US10Y","t":2023.461,"v":3.76},{"s":"US10Y","t":2023.488,"v":3.91},{"s":"US10Y","t":2023.509,"v":4.03},{"s":"US10Y","t":2023.528,"v":3.82},
      {"s":"US10Y","t":2023.547,"v":3.84},{"s":"US10Y","t":2023.568,"v":3.99},{"s":"US10Y","t":2023.595,"v":4.09},{"s":"US10Y","t":2023.616,"v":4.20},
      {"s":"US10Y","t":2023.635,"v":4.27},{"s":"US10Y","t":2023.654,"v":4.24},{"s":"US10Y","t":2023.675,"v":4.18},{"s":"US10Y","t":2023.702,"v":4.34},
      {"s":"US10Y","t":2023.723,"v":4.49},{"s":"US10Y","t":2023.742,"v":4.59},{"s":"US10Y","t":2023.761,"v":4.77},{"s":"US10Y","t":2023.777,"v":4.63},
      {"s":"US10Y","t":2023.796,"v":4.80},{"s":"US10Y","t":2023.809,"v":4.92},{"s":"US10Y","t":2023.822,"v":4.86},{"s":"US10Y","t":2023.841,"v":4.57},
      {"s":"US10Y","t":2023.857,"v":4.61},{"s":"US10Y","t":2023.876,"v":4.46},{"s":"US10Y","t":2023.895,"v":4.49},{"s":"US10Y","t":2023.916,"v":4.24},
      {"s":"US10Y","t":2023.938,"v":4.07},{"s":"US10Y","t":2023.956,"v":3.97},{"s":"US10Y","t":2023.975,"v":3.91},{"s":"US10Y","t":2023.991,"v":3.86},
      {"s":"US10Y","t":2024.010,"v":4.07},{"s":"US10Y","t":2024.029,"v":4.03},{"s":"US10Y","t":2024.050,"v":4.13},{"s":"US10Y","t":2024.064,"v":4.15},
      {"s":"US10Y","t":2024.082,"v":4.03},{"s":"US10Y","t":2024.104,"v":4.15},{"s":"US10Y","t":2024.125,"v":4.24},{"s":"US10Y","t":2024.144,"v":4.30},
      {"s":"US10Y","t":2024.165,"v":4.20},{"s":"US10Y","t":2024.184,"v":4.32},{"s":"US10Y","t":2024.206,"v":4.24},{"s":"US10Y","t":2024.224,"v":4.18},
      {"s":"US10Y","t":2024.243,"v":4.28},{"s":"US10Y","t":2024.259,"v":4.40},{"s":"US10Y","t":2024.278,"v":4.51},{"s":"US10Y","t":2024.297,"v":4.59},
      {"s":"US10Y","t":2024.318,"v":4.51},{"s":"US10Y","t":2024.340,"v":4.53},{"s":"US10Y","t":2024.358,"v":4.44},{"s":"US10Y","t":2024.377,"v":4.46},
      {"s":"US10Y","t":2024.398,"v":4.51},{"s":"US10Y","t":2024.420,"v":4.49},{"s":"US10Y","t":2024.439,"v":4.53},{"s":"US10Y","t":2024.452,"v":4.38},
      {"s":"US10Y","t":2024.473,"v":4.32},{"s":"US10Y","t":2024.492,"v":4.38},{"s":"US10Y","t":2024.511,"v":4.28},{"s":"US10Y","t":2024.527,"v":4.20},
      {"s":"US10Y","t":2024.546,"v":4.24},{"s":"US10Y","t":2024.565,"v":4.15},{"s":"US10Y","t":2024.586,"v":3.80},{"s":"US10Y","t":2024.607,"v":3.93},
      {"s":"US10Y","t":2024.626,"v":3.99},{"s":"US10Y","t":2024.645,"v":3.85},{"s":"US10Y","t":2024.661,"v":3.91},{"s":"US10Y","t":2024.680,"v":3.72},
      {"s":"US10Y","t":2024.698,"v":3.66},{"s":"US10Y","t":2024.715,"v":3.70},{"s":"US10Y","t":2024.733,"v":3.76},{"s":"US10Y","t":2024.747,"v":3.82},
      {"s":"US10Y","t":2024.768,"v":4.03},{"s":"US10Y","t":2024.787,"v":4.11},{"s":"US10Y","t":2024.806,"v":4.13},{"s":"US10Y","t":2024.827,"v":4.32},
      {"s":"US10Y","t":2024.848,"v":4.40},{"s":"US10Y","t":2024.867,"v":4.32},{"s":"US10Y","t":2024.886,"v":4.40},{"s":"US10Y","t":2024.907,"v":4.40},
      {"s":"US10Y","t":2024.929,"v":4.34},{"s":"US10Y","t":2024.948,"v":4.44},{"s":"US10Y","t":2024.966,"v":4.55},{"s":"US10Y","t":2024.988,"v":4.61},
      {"s":"US10Y","t":2025.007,"v":4.65},{"s":"US10Y","t":2025.028,"v":4.77},{"s":"US10Y","t":2025.047,"v":4.67},{"s":"US10Y","t":2025.063,"v":4.63},
      {"s":"US10Y","t":2025.082,"v":4.55},{"s":"US10Y","t":2025.100,"v":4.51},{"s":"US10Y","t":2025.122,"v":4.53},{"s":"US10Y","t":2025.143,"v":4.42},
      {"s":"US10Y","t":2025.162,"v":4.24},{"s":"US10Y","t":2025.181,"v":4.32},{"s":"US10Y","t":2025.202,"v":4.24},{"s":"US10Y","t":2025.224,"v":4.26},
      {"s":"US10Y","t":2025.242,"v":4.20},{"s":"US10Y","t":2025.256,"v":4.03},{"s":"US10Y","t":2025.269,"v":4.40},{"s":"US10Y","t":2025.282,"v":4.40},
      {"s":"US10Y","t":2025.304,"v":4.24},{"s":"US10Y","t":2025.323,"v":4.32},{"s":"US10Y","t":2025.341,"v":4.42},{"s":"US10Y","t":2025.363,"v":4.46},
      {"s":"US10Y","t":2025.382,"v":4.51},{"s":"US10Y","t":2025.398,"v":4.53},{"s":"US10Y","t":2025.416,"v":4.40},{"s":"US10Y","t":2025.430,"v":4.51},
      {"s":"US10Y","t":2025.449,"v":4.40},{"s":"US10Y","t":2025.465,"v":4.42},{"s":"US10Y","t":2025.483,"v":4.34},{"s":"US10Y","t":2025.502,"v":4.32},
      {"s":"US10Y","t":2025.524,"v":4.40},{"s":"US10Y","t":2025.545,"v":4.42},{"s":"US10Y","t":2025.564,"v":4.38},{"s":"US10Y","t":2025.583,"v":4.24},
      {"s":"US10Y","t":2025.599,"v":4.26},{"s":"US10Y","t":2025.617,"v":4.32},{"s":"US10Y","t":2025.636,"v":4.26},{"s":"US10Y","t":2025.657,"v":4.24},
      {"s":"US10Y","t":2025.679,"v":4.20},{"s":"US10Y","t":2025.697,"v":4.13},{"s":"US10Y","t":2025.716,"v":4.15},{"s":"US10Y","t":2025.738,"v":4.07},
      {"s":"US10Y","t":2025.759,"v":4.07},{"s":"US10Y","t":2025.778,"v":4.03},{"s":"US10Y","t":2025.797,"v":4.02},{"s":"US10Y","t":2025.818,"v":4.05},
      {"s":"US10Y","t":2025.840,"v":4.09},{"s":"US10Y","t":2025.858,"v":4.11},{"s":"US10Y","t":2025.877,"v":4.15},{"s":"US10Y","t":2025.899,"v":4.07},
      {"s":"US10Y","t":2025.912,"v":4.01},{"s":"US10Y","t":2025.931,"v":4.13},{"s":"US10Y","t":2025.952,"v":4.15},{"s":"US10Y","t":2025.974,"v":4.18},
      {"s":"US10Y","t":2025.992,"v":4.15},{"s":"US10Y","t":2026.011,"v":4.20},{"s":"US10Y","t":2026.033,"v":4.22},{"s":"US10Y","t":2026.054,"v":4.24},
      {"s":"US10Y","t":2026.081,"v":4.23},{"s":"US10Y","t":2026.100,"v":4.20},{"s":"US10Y","t":2026.118,"v":4.05},{"s":"US10Y","t":2026.134,"v":4.09},
      {"s":"US10Y","t":2026.153,"v":4.03},{"s":"US10Y","t":2026.167,"v":3.95},{"s":"US10Y","t":2026.188,"v":4.24},{"s":"US10Y","t":2026.207,"v":4.34},
      {"s":"US10Y","t":2026.225,"v":4.42},{"s":"US10Y","t":2026.242,"v":4.44},{"s":"US10Y","t":2026.260,"v":4.32},{"s":"US10Y","t":2026.279,"v":4.36},
      {"s":"US10Y","t":2026.300,"v":4.26},{"s":"US10Y","t":2026.322,"v":4.34},{"s":"US10Y","t":2026.341,"v":4.49},{"s":"US10Y","t":2026.359,"v":4.59},
      {"s":"US10Y","t":2026.376,"v":4.57},{"s":"US10Y","t":2026.394,"v":4.49},{"s":"US10Y","t":2026.413,"v":4.53},{"s":"US10Y","t":2026.434,"v":4.51},
      {"s":"US10Y","t":2026.456,"v":4.46},{"s":"US10Y","t":2026.475,"v":4.40},{"s":"US10Y","t":2026.493,"v":4.49},{"s":"US10Y","t":2026.509,"v":4.55},
      {"s":"US10Y","t":2026.528,"v":4.57},{"s":"US10Y","t":2026.542,"v":4.57},{"s":"US10Y","t":2026.555,"v":4.65},{"s":"US10Y","t":2026.568,"v":4.70},
      {"s":"US10Y","t":2026.582,"v":4.74},

      {"s":"US30Y","t":2016.574,"v":2.24},{"s":"US30Y","t":2016.596,"v":2.30},{"s":"US30Y","t":2016.619,"v":2.23},{"s":"US30Y","t":2016.652,"v":2.29},
      {"s":"US30Y","t":2016.675,"v":2.28},{"s":"US30Y","t":2016.697,"v":2.45},{"s":"US30Y","t":2016.713,"v":2.46},{"s":"US30Y","t":2016.731,"v":2.34},
      {"s":"US30Y","t":2016.753,"v":2.33},{"s":"US30Y","t":2016.776,"v":2.50},{"s":"US30Y","t":2016.798,"v":2.56},{"s":"US30Y","t":2016.809,"v":2.48},
      {"s":"US30Y","t":2016.832,"v":2.62},{"s":"US30Y","t":2016.847,"v":2.57},{"s":"US30Y","t":2016.861,"v":2.92},{"s":"US30Y","t":2016.888,"v":3.02},
      {"s":"US30Y","t":2016.910,"v":3.02},{"s":"US30Y","t":2016.933,"v":3.10},{"s":"US30Y","t":2016.955,"v":3.18},{"s":"US30Y","t":2017.000,"v":3.07},
      {"s":"US30Y","t":2017.034,"v":2.99},{"s":"US30Y","t":2017.056,"v":3.05},{"s":"US30Y","t":2017.085,"v":3.08},{"s":"US30Y","t":2017.101,"v":3.11},
      {"s":"US30Y","t":2017.112,"v":3.02},{"s":"US30Y","t":2017.153,"v":2.96},{"s":"US30Y","t":2017.191,"v":3.18},{"s":"US30Y","t":2017.224,"v":3.01},
      {"s":"US30Y","t":2017.258,"v":3.01},{"s":"US30Y","t":2017.287,"v":2.89},{"s":"US30Y","t":2017.314,"v":2.90},{"s":"US30Y","t":2017.348,"v":3.00},
      {"s":"US30Y","t":2017.386,"v":2.91},{"s":"US30Y","t":2017.422,"v":2.81},{"s":"US30Y","t":2017.449,"v":2.83},{"s":"US30Y","t":2017.478,"v":2.70},
      {"s":"US30Y","t":2017.516,"v":2.94},{"s":"US30Y","t":2017.550,"v":2.81},{"s":"US30Y","t":2017.572,"v":2.89},{"s":"US30Y","t":2017.610,"v":2.79},
      {"s":"US30Y","t":2017.651,"v":2.77},{"s":"US30Y","t":2017.689,"v":2.67},{"s":"US30Y","t":2017.707,"v":2.78},{"s":"US30Y","t":2017.740,"v":2.83},
      {"s":"US30Y","t":2017.763,"v":2.91},{"s":"US30Y","t":2017.781,"v":2.81},{"s":"US30Y","t":2017.797,"v":2.89},{"s":"US30Y","t":2017.819,"v":2.95},
      {"s":"US30Y","t":2017.841,"v":2.82},{"s":"US30Y","t":2017.864,"v":2.89},{"s":"US30Y","t":2017.886,"v":2.79},{"s":"US30Y","t":2017.909,"v":2.77},
      {"s":"US30Y","t":2017.938,"v":2.78},{"s":"US30Y","t":2017.960,"v":2.70},{"s":"US30Y","t":2017.976,"v":2.84},{"s":"US30Y","t":2017.998,"v":2.74},
      {"s":"US30Y","t":2018.021,"v":2.83},{"s":"US30Y","t":2018.055,"v":2.91},{"s":"US30Y","t":2018.072,"v":2.92},{"s":"US30Y","t":2018.095,"v":3.11},
      {"s":"US30Y","t":2018.122,"v":3.15},{"s":"US30Y","t":2018.144,"v":3.16},{"s":"US30Y","t":2018.171,"v":3.15},{"s":"US30Y","t":2018.194,"v":3.16},
      {"s":"US30Y","t":2018.212,"v":3.08},{"s":"US30Y","t":2018.234,"v":2.97},{"s":"US30Y","t":2018.279,"v":3.03},{"s":"US30Y","t":2018.306,"v":3.15},
      {"s":"US30Y","t":2018.346,"v":3.12},{"s":"US30Y","t":2018.369,"v":3.21},{"s":"US30Y","t":2018.391,"v":3.06},{"s":"US30Y","t":2018.425,"v":3.08},
      {"s":"US30Y","t":2018.447,"v":3.05},{"s":"US30Y","t":2018.481,"v":3.03},{"s":"US30Y","t":2018.508,"v":2.95},{"s":"US30Y","t":2018.532,"v":2.94},
      {"s":"US30Y","t":2018.559,"v":3.06},{"s":"US30Y","t":2018.582,"v":3.10},{"s":"US30Y","t":2018.615,"v":3.01},{"s":"US30Y","t":2018.660,"v":2.99},
      {"s":"US30Y","t":2018.694,"v":3.11},{"s":"US30Y","t":2018.716,"v":3.16},{"s":"US30Y","t":2018.739,"v":3.26},{"s":"US30Y","t":2018.761,"v":3.39},
      {"s":"US30Y","t":2018.784,"v":3.32},{"s":"US30Y","t":2018.802,"v":3.39},{"s":"US30Y","t":2018.817,"v":3.33},{"s":"US30Y","t":2018.840,"v":3.46},
      {"s":"US30Y","t":2018.862,"v":3.38},{"s":"US30Y","t":2018.885,"v":3.32},{"s":"US30Y","t":2018.918,"v":3.32},{"s":"US30Y","t":2018.934,"v":3.16},
      {"s":"US30Y","t":2018.974,"v":3.03},{"s":"US30Y","t":2018.997,"v":3.04},{"s":"US30Y","t":2019.019,"v":2.99},{"s":"US30Y","t":2019.053,"v":3.10},
      {"s":"US30Y","t":2019.087,"v":3.05},{"s":"US30Y","t":2019.114,"v":2.98},{"s":"US30Y","t":2019.143,"v":3.01},{"s":"US30Y","t":2019.165,"v":3.12},
      {"s":"US30Y","t":2019.181,"v":3.02},{"s":"US30Y","t":2019.221,"v":2.91},{"s":"US30Y","t":2019.244,"v":2.82},{"s":"US30Y","t":2019.277,"v":2.97},
      {"s":"US30Y","t":2019.311,"v":2.94},{"s":"US30Y","t":2019.345,"v":2.89},{"s":"US30Y","t":2019.389,"v":2.74},{"s":"US30Y","t":2019.419,"v":2.59},
      {"s":"US30Y","t":2019.468,"v":2.61},{"s":"US30Y","t":2019.490,"v":2.53},{"s":"US30Y","t":2019.513,"v":2.62},{"s":"US30Y","t":2019.553,"v":2.60},
      {"s":"US30Y","t":2019.576,"v":2.37},{"s":"US30Y","t":2019.603,"v":2.15},{"s":"US30Y","t":2019.625,"v":1.98},{"s":"US30Y","t":2019.648,"v":2.02},
      {"s":"US30Y","t":2019.670,"v":1.97},{"s":"US30Y","t":2019.699,"v":2.37},{"s":"US30Y","t":2019.722,"v":2.20},{"s":"US30Y","t":2019.755,"v":2.03},
      {"s":"US30Y","t":2019.782,"v":2.24},{"s":"US30Y","t":2019.816,"v":2.29},{"s":"US30Y","t":2019.838,"v":2.20},{"s":"US30Y","t":2019.861,"v":2.41},
      {"s":"US30Y","t":2019.890,"v":2.28},{"s":"US30Y","t":2019.917,"v":2.20},{"s":"US30Y","t":2019.950,"v":2.28},{"s":"US30Y","t":2019.974,"v":2.35},
      {"s":"US30Y","t":2020.002,"v":2.26},{"s":"US30Y","t":2020.028,"v":2.29},{"s":"US30Y","t":2020.046,"v":2.30},{"s":"US30Y","t":2020.067,"v":2.11},
      {"s":"US30Y","t":2020.083,"v":2.02},{"s":"US30Y","t":2020.104,"v":2.05},{"s":"US30Y","t":2020.120,"v":2.04},{"s":"US30Y","t":2020.137,"v":1.92},
      {"s":"US30Y","t":2020.159,"v":1.60},{"s":"US30Y","t":2020.181,"v":1.26},{"s":"US30Y","t":2020.202,"v":1.57},{"s":"US30Y","t":2020.218,"v":1.56},
      {"s":"US30Y","t":2020.235,"v":1.36},{"s":"US30Y","t":2020.257,"v":1.23},{"s":"US30Y","t":2020.272,"v":1.35},{"s":"US30Y","t":2020.294,"v":1.27},
      {"s":"US30Y","t":2020.316,"v":1.18},{"s":"US30Y","t":2020.333,"v":1.29},{"s":"US30Y","t":2020.355,"v":1.39},{"s":"US30Y","t":2020.370,"v":1.32},
      {"s":"US30Y","t":2020.388,"v":1.36},{"s":"US30Y","t":2020.409,"v":1.41},{"s":"US30Y","t":2020.431,"v":1.67},{"s":"US30Y","t":2020.453,"v":1.47},
      {"s":"US30Y","t":2020.468,"v":1.48},{"s":"US30Y","t":2020.490,"v":1.36},{"s":"US30Y","t":2020.503,"v":1.42},{"s":"US30Y","t":2020.525,"v":1.33},
      {"s":"US30Y","t":2020.544,"v":1.33},{"s":"US30Y","t":2020.568,"v":1.23},{"s":"US30Y","t":2020.583,"v":1.19},{"s":"US30Y","t":2020.601,"v":1.23},
      {"s":"US30Y","t":2020.623,"v":1.43},{"s":"US30Y","t":2020.638,"v":1.36},{"s":"US30Y","t":2020.664,"v":1.51},{"s":"US30Y","t":2020.697,"v":1.44},
      {"s":"US30Y","t":2020.714,"v":1.45},{"s":"US30Y","t":2020.736,"v":1.40},{"s":"US30Y","t":2020.773,"v":1.58},{"s":"US30Y","t":2020.790,"v":1.52},
      {"s":"US30Y","t":2020.812,"v":1.65},{"s":"US30Y","t":2020.834,"v":1.64},{"s":"US30Y","t":2020.856,"v":1.60},{"s":"US30Y","t":2020.871,"v":1.66},
      {"s":"US30Y","t":2020.888,"v":1.53},{"s":"US30Y","t":2020.910,"v":1.61},{"s":"US30Y","t":2020.925,"v":1.73},{"s":"US30Y","t":2020.943,"v":1.61},
      {"s":"US30Y","t":2020.964,"v":1.71},{"s":"US30Y","t":2020.997,"v":1.64},{"s":"US30Y","t":2021.019,"v":1.87},{"s":"US30Y","t":2021.041,"v":1.86},
      {"s":"US30Y","t":2021.078,"v":1.86},{"s":"US30Y","t":2021.099,"v":1.98},{"s":"US30Y","t":2021.117,"v":2.00},{"s":"US30Y","t":2021.139,"v":2.15},
      {"s":"US30Y","t":2021.160,"v":2.19},{"s":"US30Y","t":2021.182,"v":2.34},{"s":"US30Y","t":2021.215,"v":2.45},{"s":"US30Y","t":2021.237,"v":2.36},
      {"s":"US30Y","t":2021.258,"v":2.34},{"s":"US30Y","t":2021.291,"v":2.26},{"s":"US30Y","t":2021.313,"v":2.26},{"s":"US30Y","t":2021.335,"v":2.30},
      {"s":"US30Y","t":2021.350,"v":2.28},{"s":"US30Y","t":2021.367,"v":2.36},{"s":"US30Y","t":2021.389,"v":2.32},{"s":"US30Y","t":2021.422,"v":2.23},
      {"s":"US30Y","t":2021.443,"v":2.16},{"s":"US30Y","t":2021.465,"v":2.04},{"s":"US30Y","t":2021.483,"v":2.16},{"s":"US30Y","t":2021.504,"v":2.03},
      {"s":"US30Y","t":2021.541,"v":1.93},{"s":"US30Y","t":2021.574,"v":1.90},{"s":"US30Y","t":2021.596,"v":1.95},{"s":"US30Y","t":2021.618,"v":1.95},
      {"s":"US30Y","t":2021.635,"v":1.87},{"s":"US30Y","t":2021.661,"v":1.94},{"s":"US30Y","t":2021.694,"v":1.94},{"s":"US30Y","t":2021.715,"v":1.91},
      {"s":"US30Y","t":2021.742,"v":2.02},{"s":"US30Y","t":2021.770,"v":2.15},{"s":"US30Y","t":2021.787,"v":2.04},{"s":"US30Y","t":2021.809,"v":2.10},
      {"s":"US30Y","t":2021.831,"v":1.92},{"s":"US30Y","t":2021.846,"v":1.89},{"s":"US30Y","t":2021.864,"v":1.96},{"s":"US30Y","t":2021.890,"v":1.88},
      {"s":"US30Y","t":2021.905,"v":1.81},{"s":"US30Y","t":2021.922,"v":1.68},{"s":"US30Y","t":2021.944,"v":1.88},{"s":"US30Y","t":2021.959,"v":1.82},
      {"s":"US30Y","t":2021.977,"v":1.91},{"s":"US30Y","t":2021.998,"v":1.89},{"s":"US30Y","t":2022.020,"v":2.12},{"s":"US30Y","t":2022.042,"v":2.11},
      {"s":"US30Y","t":2022.064,"v":2.06},{"s":"US30Y","t":2022.086,"v":2.23},{"s":"US30Y","t":2022.118,"v":2.24},{"s":"US30Y","t":2022.140,"v":2.30},
      {"s":"US30Y","t":2022.151,"v":2.24},{"s":"US30Y","t":2022.173,"v":2.16},{"s":"US30Y","t":2022.190,"v":2.37},{"s":"US30Y","t":2022.210,"v":2.42},
      {"s":"US30Y","t":2022.231,"v":2.60},{"s":"US30Y","t":2022.253,"v":2.43},{"s":"US30Y","t":2022.266,"v":2.59},{"s":"US30Y","t":2022.288,"v":2.93},
      {"s":"US30Y","t":2022.314,"v":2.95},{"s":"US30Y","t":2022.325,"v":2.94},{"s":"US30Y","t":2022.340,"v":3.22},{"s":"US30Y","t":2022.362,"v":3.10},
      {"s":"US30Y","t":2022.390,"v":2.99},{"s":"US30Y","t":2022.406,"v":3.10},{"s":"US30Y","t":2022.434,"v":3.22},{"s":"US30Y","t":2022.456,"v":3.30},
      {"s":"US30Y","t":2022.471,"v":3.26},{"s":"US30Y","t":2022.499,"v":3.14},{"s":"US30Y","t":2022.521,"v":3.26},{"s":"US30Y","t":2022.554,"v":3.01},
      {"s":"US30Y","t":2022.571,"v":2.99},{"s":"US30Y","t":2022.597,"v":3.19},{"s":"US30Y","t":2022.625,"v":3.29},{"s":"US30Y","t":2022.644,"v":3.41},
      {"s":"US30Y","t":2022.670,"v":3.54},{"s":"US30Y","t":2022.697,"v":3.76},{"s":"US30Y","t":2022.724,"v":3.91},{"s":"US30Y","t":2022.751,"v":4.03},
      {"s":"US30Y","t":2022.778,"v":4.15},{"s":"US30Y","t":2022.804,"v":4.30},{"s":"US30Y","t":2022.823,"v":4.15},{"s":"US30Y","t":2022.845,"v":4.24},
      {"s":"US30Y","t":2022.866,"v":3.99},{"s":"US30Y","t":2022.885,"v":3.85},{"s":"US30Y","t":2022.904,"v":3.74},{"s":"US30Y","t":2022.925,"v":3.56},
      {"s":"US30Y","t":2022.946,"v":3.55},{"s":"US30Y","t":2022.965,"v":3.62},{"s":"US30Y","t":2022.992,"v":3.93},{"s":"US30Y","t":2023.011,"v":3.85},
      {"s":"US30Y","t":2023.032,"v":3.66},{"s":"US30Y","t":2023.054,"v":3.64},{"s":"US30Y","t":2023.072,"v":3.63},{"s":"US30Y","t":2023.091,"v":3.64},
      {"s":"US30Y","t":2023.113,"v":3.78},{"s":"US30Y","t":2023.134,"v":3.93},{"s":"US30Y","t":2023.153,"v":3.97},{"s":"US30Y","t":2023.171,"v":3.93},
      {"s":"US30Y","t":2023.198,"v":3.80},{"s":"US30Y","t":2023.214,"v":3.62},{"s":"US30Y","t":2023.233,"v":3.68},{"s":"US30Y","t":2023.252,"v":3.74},
      {"s":"US30Y","t":2023.273,"v":3.68},{"s":"US30Y","t":2023.295,"v":3.78},{"s":"US30Y","t":2023.313,"v":3.72},{"s":"US30Y","t":2023.332,"v":3.76},
      {"s":"US30Y","t":2023.354,"v":3.68},{"s":"US30Y","t":2023.380,"v":3.93},{"s":"US30Y","t":2023.402,"v":3.97},{"s":"US30Y","t":2023.421,"v":3.89},
      {"s":"US30Y","t":2023.439,"v":3.85},{"s":"US30Y","t":2023.461,"v":3.82},{"s":"US30Y","t":2023.488,"v":3.87},{"s":"US30Y","t":2023.509,"v":4.03},
      {"s":"US30Y","t":2023.528,"v":3.91},{"s":"US30Y","t":2023.547,"v":3.89},{"s":"US30Y","t":2023.568,"v":4.05},{"s":"US30Y","t":2023.595,"v":4.07},
      {"s":"US30Y","t":2023.622,"v":4.26},{"s":"US30Y","t":2023.640,"v":4.36},{"s":"US30Y","t":2023.656,"v":4.29},{"s":"US30Y","t":2023.675,"v":4.30},
      {"s":"US30Y","t":2023.702,"v":4.38},{"s":"US30Y","t":2023.723,"v":4.51},{"s":"US30Y","t":2023.742,"v":4.57},{"s":"US30Y","t":2023.761,"v":4.94},
      {"s":"US30Y","t":2023.777,"v":4.82},{"s":"US30Y","t":2023.796,"v":5.06},{"s":"US30Y","t":2023.809,"v":4.98},{"s":"US30Y","t":2023.822,"v":4.92},
      {"s":"US30Y","t":2023.841,"v":4.67},{"s":"US30Y","t":2023.857,"v":4.69},{"s":"US30Y","t":2023.876,"v":4.61},{"s":"US30Y","t":2023.895,"v":4.63},
      {"s":"US30Y","t":2023.916,"v":4.49},{"s":"US30Y","t":2023.938,"v":4.24},{"s":"US30Y","t":2023.956,"v":4.07},{"s":"US30Y","t":2023.975,"v":4.03},
      {"s":"US30Y","t":2023.991,"v":4.01},{"s":"US30Y","t":2024.010,"v":4.22},{"s":"US30Y","t":2024.029,"v":4.20},{"s":"US30Y","t":2024.050,"v":4.36},
      {"s":"US30Y","t":2024.064,"v":4.38},{"s":"US30Y","t":2024.082,"v":4.28},{"s":"US30Y","t":2024.104,"v":4.38},{"s":"US30Y","t":2024.125,"v":4.44},
      {"s":"US30Y","t":2024.144,"v":4.51},{"s":"US30Y","t":2024.165,"v":4.44},{"s":"US30Y","t":2024.184,"v":4.55},{"s":"US30Y","t":2024.206,"v":4.44},
      {"s":"US30Y","t":2024.224,"v":4.36},{"s":"US30Y","t":2024.243,"v":4.46},{"s":"US30Y","t":2024.259,"v":4.61},{"s":"US30Y","t":2024.278,"v":4.65},
      {"s":"US30Y","t":2024.297,"v":4.73},{"s":"US30Y","t":2024.318,"v":4.67},{"s":"US30Y","t":2024.340,"v":4.69},{"s":"US30Y","t":2024.358,"v":4.59},
      {"s":"US30Y","t":2024.377,"v":4.61},{"s":"US30Y","t":2024.398,"v":4.65},{"s":"US30Y","t":2024.420,"v":4.61},{"s":"US30Y","t":2024.439,"v":4.57},
      {"s":"US30Y","t":2024.452,"v":4.49},{"s":"US30Y","t":2024.473,"v":4.42},{"s":"US30Y","t":2024.492,"v":4.55},{"s":"US30Y","t":2024.511,"v":4.44},
      {"s":"US30Y","t":2024.527,"v":4.38},{"s":"US30Y","t":2024.546,"v":4.44},{"s":"US30Y","t":2024.565,"v":4.40},{"s":"US30Y","t":2024.586,"v":4.05},
      {"s":"US30Y","t":2024.607,"v":4.22},{"s":"US30Y","t":2024.626,"v":4.15},{"s":"US30Y","t":2024.645,"v":4.05},{"s":"US30Y","t":2024.661,"v":4.18},
      {"s":"US30Y","t":2024.680,"v":4.03},{"s":"US30Y","t":2024.698,"v":3.97},{"s":"US30Y","t":2024.715,"v":4.03},{"s":"US30Y","t":2024.733,"v":4.09},
      {"s":"US30Y","t":2024.747,"v":4.13},{"s":"US30Y","t":2024.768,"v":4.32},{"s":"US30Y","t":2024.787,"v":4.40},{"s":"US30Y","t":2024.806,"v":4.42},
      {"s":"US30Y","t":2024.827,"v":4.53},{"s":"US30Y","t":2024.848,"v":4.59},{"s":"US30Y","t":2024.867,"v":4.57},{"s":"US30Y","t":2024.886,"v":4.44},
      {"s":"US30Y","t":2024.907,"v":4.51},{"s":"US30Y","t":2024.929,"v":4.49},{"s":"US30Y","t":2024.948,"v":4.65},{"s":"US30Y","t":2024.966,"v":4.75},
      {"s":"US30Y","t":2024.988,"v":4.86},{"s":"US30Y","t":2025.007,"v":4.80},{"s":"US30Y","t":2025.028,"v":4.94},{"s":"US30Y","t":2025.047,"v":4.88},
      {"s":"US30Y","t":2025.063,"v":4.86},{"s":"US30Y","t":2025.082,"v":4.73},{"s":"US30Y","t":2025.100,"v":4.69},{"s":"US30Y","t":2025.122,"v":4.69},
      {"s":"US30Y","t":2025.143,"v":4.61},{"s":"US30Y","t":2025.162,"v":4.51},{"s":"US30Y","t":2025.181,"v":4.61},{"s":"US30Y","t":2025.202,"v":4.63},
      {"s":"US30Y","t":2025.224,"v":4.61},{"s":"US30Y","t":2025.242,"v":4.57},{"s":"US30Y","t":2025.256,"v":4.42},{"s":"US30Y","t":2025.269,"v":4.73},
      {"s":"US30Y","t":2025.282,"v":4.86},{"s":"US30Y","t":2025.304,"v":4.82},{"s":"US30Y","t":2025.323,"v":4.75},{"s":"US30Y","t":2025.341,"v":4.84},
      {"s":"US30Y","t":2025.363,"v":4.92},{"s":"US30Y","t":2025.376,"v":4.96},{"s":"US30Y","t":2025.395,"v":5.04},{"s":"US30Y","t":2025.411,"v":4.96},
      {"s":"US30Y","t":2025.430,"v":4.94},{"s":"US30Y","t":2025.449,"v":4.90},{"s":"US30Y","t":2025.465,"v":4.92},{"s":"US30Y","t":2025.483,"v":4.84},
      {"s":"US30Y","t":2025.502,"v":4.88},{"s":"US30Y","t":2025.524,"v":4.96},{"s":"US30Y","t":2025.545,"v":4.98},{"s":"US30Y","t":2025.564,"v":4.94},
      {"s":"US30Y","t":2025.583,"v":4.86},{"s":"US30Y","t":2025.599,"v":4.88},{"s":"US30Y","t":2025.617,"v":4.92},{"s":"US30Y","t":2025.636,"v":4.90},
      {"s":"US30Y","t":2025.657,"v":4.92},{"s":"US30Y","t":2025.679,"v":4.86},{"s":"US30Y","t":2025.697,"v":4.73},{"s":"US30Y","t":2025.716,"v":4.75},
      {"s":"US30Y","t":2025.738,"v":4.69},{"s":"US30Y","t":2025.759,"v":4.65},{"s":"US30Y","t":2025.778,"v":4.63},{"s":"US30Y","t":2025.797,"v":4.61},
      {"s":"US30Y","t":2025.818,"v":4.61},{"s":"US30Y","t":2025.840,"v":4.67},{"s":"US30Y","t":2025.858,"v":4.71},{"s":"US30Y","t":2025.877,"v":4.73},
      {"s":"US30Y","t":2025.899,"v":4.69},{"s":"US30Y","t":2025.920,"v":4.77},{"s":"US30Y","t":2025.939,"v":4.84},{"s":"US30Y","t":2025.958,"v":4.84},
      {"s":"US30Y","t":2025.979,"v":4.86},{"s":"US30Y","t":2026.000,"v":4.86},{"s":"US30Y","t":2026.019,"v":4.84},{"s":"US30Y","t":2026.038,"v":4.86},
      {"s":"US30Y","t":2026.059,"v":4.84},{"s":"US30Y","t":2026.081,"v":4.86},{"s":"US30Y","t":2026.100,"v":4.82},{"s":"US30Y","t":2026.118,"v":4.69},
      {"s":"US30Y","t":2026.134,"v":4.71},{"s":"US30Y","t":2026.153,"v":4.65},{"s":"US30Y","t":2026.167,"v":4.63},{"s":"US30Y","t":2026.188,"v":4.86},
      {"s":"US30Y","t":2026.207,"v":4.94},{"s":"US30Y","t":2026.225,"v":4.96},{"s":"US30Y","t":2026.242,"v":4.98},{"s":"US30Y","t":2026.260,"v":4.92},
      {"s":"US30Y","t":2026.279,"v":4.92},{"s":"US30Y","t":2026.300,"v":4.92},{"s":"US30Y","t":2026.322,"v":4.96},{"s":"US30Y","t":2026.341,"v":4.94},
      {"s":"US30Y","t":2026.354,"v":4.98},{"s":"US30Y","t":2026.376,"v":5.11},{"s":"US30Y","t":2026.394,"v":5.06},{"s":"US30Y","t":2026.413,"v":5.00},
      {"s":"US30Y","t":2026.434,"v":4.98},{"s":"US30Y","t":2026.456,"v":4.92},{"s":"US30Y","t":2026.475,"v":4.88},{"s":"US30Y","t":2026.493,"v":4.98},
      {"s":"US30Y","t":2026.509,"v":5.06},{"s":"US30Y","t":2026.528,"v":5.06},{"s":"US30Y","t":2026.542,"v":5.11},{"s":"US30Y","t":2026.555,"v":5.17},
      {"s":"US30Y","t":2026.568,"v":5.23},{"s":"US30Y","t":2026.582,"v":5.28}
    ]
  },
  "layer": [
    {
      "data": {"name": "yields"},
      "transform": [{"filter": "datum.s === 'US2Y'"}],
      "mark": {"type": "line", "color": "#c4961a", "strokeWidth": 4.5, "strokeMiterLimit": 3, "clip": true},
      "encoding": {
        "x": {
          "field": "t", "type": "quantitative", "title": null,
          "scale": {"domain": [2016.582, 2026.771], "nice": false, "zero": false},
          "axis": {
            "values": [2017, 2018, 2019, 2020, 2021, 2022, 2023, 2024, 2025, 2026],
            "format": "d", "grid": true, "tickSize": 10, "tickWidth": 2,
            "labelFont": "Liberation Sans", "labelFontWeight": "bold", "labelFontSize": 25,
            "labelPadding": 12
          }
        },
        "y": {
          "field": "v", "type": "quantitative", "title": null,
          "scale": {"domain": [-0.275, 6.424], "nice": false, "zero": false},
          "axis": {
            "orient": "right",
            "values": [0, 0.5, 1, 1.5, 2, 2.5, 3, 3.5, 4, 4.5, 5, 5.5, 6],
            "labelExpr": "format(datum.value, '.3f') + '%'",
            "grid": true, "tickSize": 6, "tickWidth": 3,
            "labelFont": "DejaVu Sans", "labelFontSize": 20, "labelPadding": 13
          }
        }
      }
    },
    {
      "layer": [
        {
          "data": {"name": "fdtr"},
          "mark": {"type": "line", "color": "#25282d", "strokeWidth": 4.5, "clip": true},
          "encoding": {
            "x": {"field": "t", "type": "quantitative", "title": null,
                  "scale": {"domain": [2016.582, 2026.771], "nice": false, "zero": false}},
            "y": {
              "field": "f", "type": "quantitative", "title": null,
              "scale": {"domain": [-0.129, 6.659], "nice": false, "zero": false},
              "axis": {
                "orient": "right", "offset": 140,
                "values": [0, 0.5, 1, 1.5, 2, 2.5, 3, 3.5, 4, 4.5, 5, 5.5, 6, 6.5],
                "format": ".2f", "grid": false, "tickSize": 6, "tickWidth": 3,
                "labelFont": "DejaVu Sans", "labelFontSize": 20, "labelPadding": 13
              }
            }
          }
        },
        {
          "data": {"name": "ftag"},
          "mark": {"type": "point", "shape": "M-1,-0.457H1V0.457H-1Z", "filled": true, "opacity": 1, "size": 19600, "color": "#383b40", "strokeWidth": 0},
          "encoding": {
            "x": {"datum": 2027.796, "type": "quantitative",
                  "scale": {"domain": [2016.582, 2026.771], "nice": false, "zero": false}},
            "y": {"field": "f", "type": "quantitative", "title": null,
                  "scale": {"domain": [-0.129, 6.659], "nice": false, "zero": false}}
          }
        },
        {
          "data": {"name": "ftag"},
          "mark": {"type": "text", "color": "white", "font": "DejaVu Sans", "fontWeight": "bold", "fontSize": 20, "lineHeight": 22, "align": "center", "baseline": "middle"},
          "encoding": {
            "x": {"datum": 2027.796, "type": "quantitative",
                  "scale": {"domain": [2016.582, 2026.771], "nice": false, "zero": false}},
            "y": {"field": "f", "type": "quantitative", "title": null,
                  "scale": {"domain": [-0.129, 6.659], "nice": false, "zero": false}},
            "text": {"field": "lab"}
          }
        }
      ]
    },
    {
      "layer": [
        {
          "data": {"name": "yields"},
          "transform": [{"filter": "datum.s !== 'US2Y'"}],
          "mark": {"type": "line", "strokeWidth": 2, "clip": true},
          "encoding": {
            "x": {"field": "t", "type": "quantitative", "title": null,
                  "scale": {"domain": [2016.582, 2026.771], "nice": false, "zero": false}},
            "y": {"field": "v", "type": "quantitative", "title": null,
                  "scale": {"domain": [-0.275, 6.424], "nice": false, "zero": false}, "axis": null},
            "color": {"field": "s", "type": "nominal", "legend": null,
                      "scale": {"domain": ["US2Y", "FDTR", "US10Y", "US30Y"], "range": ["#c4961a", "#25282d", "#1a8cff", "#72ad58"]}}
          }
        },
        {
          "data": {"name": "pills"},
          "mark": {"type": "rect", "fill": "white", "stroke": "#e3e3e3", "strokeWidth": 2, "cornerRadius": 7},
          "encoding": {
            "x": {"field": "t0", "type": "quantitative", "title": null,
                  "scale": {"domain": [2016.582, 2026.771], "nice": false, "zero": false}},
            "x2": {"field": "t1"},
            "y": {"field": "top", "type": "quantitative", "title": null,
                  "scale": {"domain": [-0.275, 6.424], "nice": false, "zero": false}, "axis": null},
            "y2": {"field": "bot"}
          }
        },
        {
          "data": {"name": "pills"},
          "mark": {"type": "rule", "strokeWidth": 7, "xOffset": 4},
          "encoding": {
            "x": {"field": "t0", "type": "quantitative", "title": null,
                  "scale": {"domain": [2016.582, 2026.771], "nice": false, "zero": false}},
            "y": {"field": "top", "type": "quantitative", "title": null,
                  "scale": {"domain": [-0.275, 6.424], "nice": false, "zero": false}, "axis": null},
            "y2": {"field": "bot"},
            "color": {"field": "s", "type": "nominal", "legend": null,
                      "scale": {"domain": ["US2Y", "FDTR", "US10Y", "US30Y"], "range": ["#c4961a", "#25282d", "#1a8cff", "#72ad58"]}}
          }
        },
        {
          "data": {"name": "pills"},
          "mark": {"type": "text", "align": "left", "baseline": "middle", "font": "Roboto", "fontSize": 27, "fontWeight": 500, "color": "#1f2328"},
          "encoding": {
            "x": {"field": "tx", "type": "quantitative", "title": null,
                  "scale": {"domain": [2016.582, 2026.771], "nice": false, "zero": false}},
            "y": {"field": "mid", "type": "quantitative", "title": null,
                  "scale": {"domain": [-0.275, 6.424], "nice": false, "zero": false}, "axis": null},
            "text": {"field": "main"}
          }
        },
        {
          "data": {"name": "pills"},
          "mark": {"type": "text", "align": "right", "baseline": "middle", "font": "Roboto", "fontSize": 27, "fontWeight": 500, "xOffset": -13},
          "encoding": {
            "x": {"field": "t1", "type": "quantitative", "title": null,
                  "scale": {"domain": [2016.582, 2026.771], "nice": false, "zero": false}},
            "y": {"field": "mid", "type": "quantitative", "title": null,
                  "scale": {"domain": [-0.275, 6.424], "nice": false, "zero": false}, "axis": null},
            "text": {"field": "chg"},
            "fill": {"field": "dir", "type": "nominal", "legend": null,
                     "scale": {"domain": ["down", "flat", "up"], "range": ["#d0392b", "#8a8a8a", "#167a34"]}}
          }
        },
        {
          "data": {"name": "tags"},
          "mark": {"type": "point", "shape": "M-1,-0.457H1V0.457H-1Z", "filled": true, "opacity": 1, "size": 19600, "strokeWidth": 0},
          "encoding": {
            "x": {"datum": 2027.11, "type": "quantitative",
                  "scale": {"domain": [2016.582, 2026.771], "nice": false, "zero": false}},
            "y": {"field": "v", "type": "quantitative", "title": null,
                  "scale": {"domain": [-0.275, 6.424], "nice": false, "zero": false}, "axis": null},
            "color": {"field": "s", "type": "nominal", "legend": null,
                      "scale": {"domain": ["US2Y", "FDTR", "US10Y", "US30Y"], "range": ["#c4961a", "#25282d", "#1a8cff", "#72ad58"]}}
          }
        },
        {
          "data": {"name": "tags"},
          "mark": {"type": "text", "color": "white", "font": "DejaVu Sans", "fontWeight": "bold", "fontSize": 20, "lineHeight": 22, "align": "center", "baseline": "middle"},
          "encoding": {
            "x": {"datum": 2027.11, "type": "quantitative",
                  "scale": {"domain": [2016.582, 2026.771], "nice": false, "zero": false}},
            "y": {"field": "v", "type": "quantitative", "title": null,
                  "scale": {"domain": [-0.275, 6.424], "nice": false, "zero": false}, "axis": null},
            "text": {"field": "lab"}
          }
        },
        {
          "data": {"values": [{"brand": "koyfin"}]},
          "mark": {"type": "point", "shape": "M0.229,-1L-0.771,0L0.157,1L0.329,0.9L-0.529,0L0.4,-0.9Z M0.586,-0.529L0.057,0L0.586,0.529L0.771,0.357L0.371,0L0.771,-0.357Z", "filled": true, "opacity": 1, "size": 2180, "color": "#1d2127", "strokeWidth": 0},
          "encoding": {
            "x": {"datum": 2027.344, "type": "quantitative",
                  "scale": {"domain": [2016.582, 2026.771], "nice": false, "zero": false}},
            "y": {"datum": -0.89, "type": "quantitative",
                  "scale": {"domain": [-0.275, 6.424], "nice": false, "zero": false}, "axis": null}
          }
        },
        {
          "data": {"values": [{"brand": "koyfin"}]},
          "mark": {"type": "text", "align": "right", "baseline": "alphabetic", "font": "Inter", "fontSize": 39, "fontWeight": 600, "color": "#1d2127"},
          "encoding": {
            "x": {"datum": 2028.053, "type": "quantitative",
                  "scale": {"domain": [2016.582, 2026.771], "nice": false, "zero": false}},
            "y": {"datum": -0.985, "type": "quantitative",
                  "scale": {"domain": [-0.275, 6.424], "nice": false, "zero": false}, "axis": null},
            "text": {"field": "brand"}
          }
        }
      ]
    }
  ],
  "resolve": {"scale": {"y": "independent", "color": "independent", "fill": "independent"}}
}
